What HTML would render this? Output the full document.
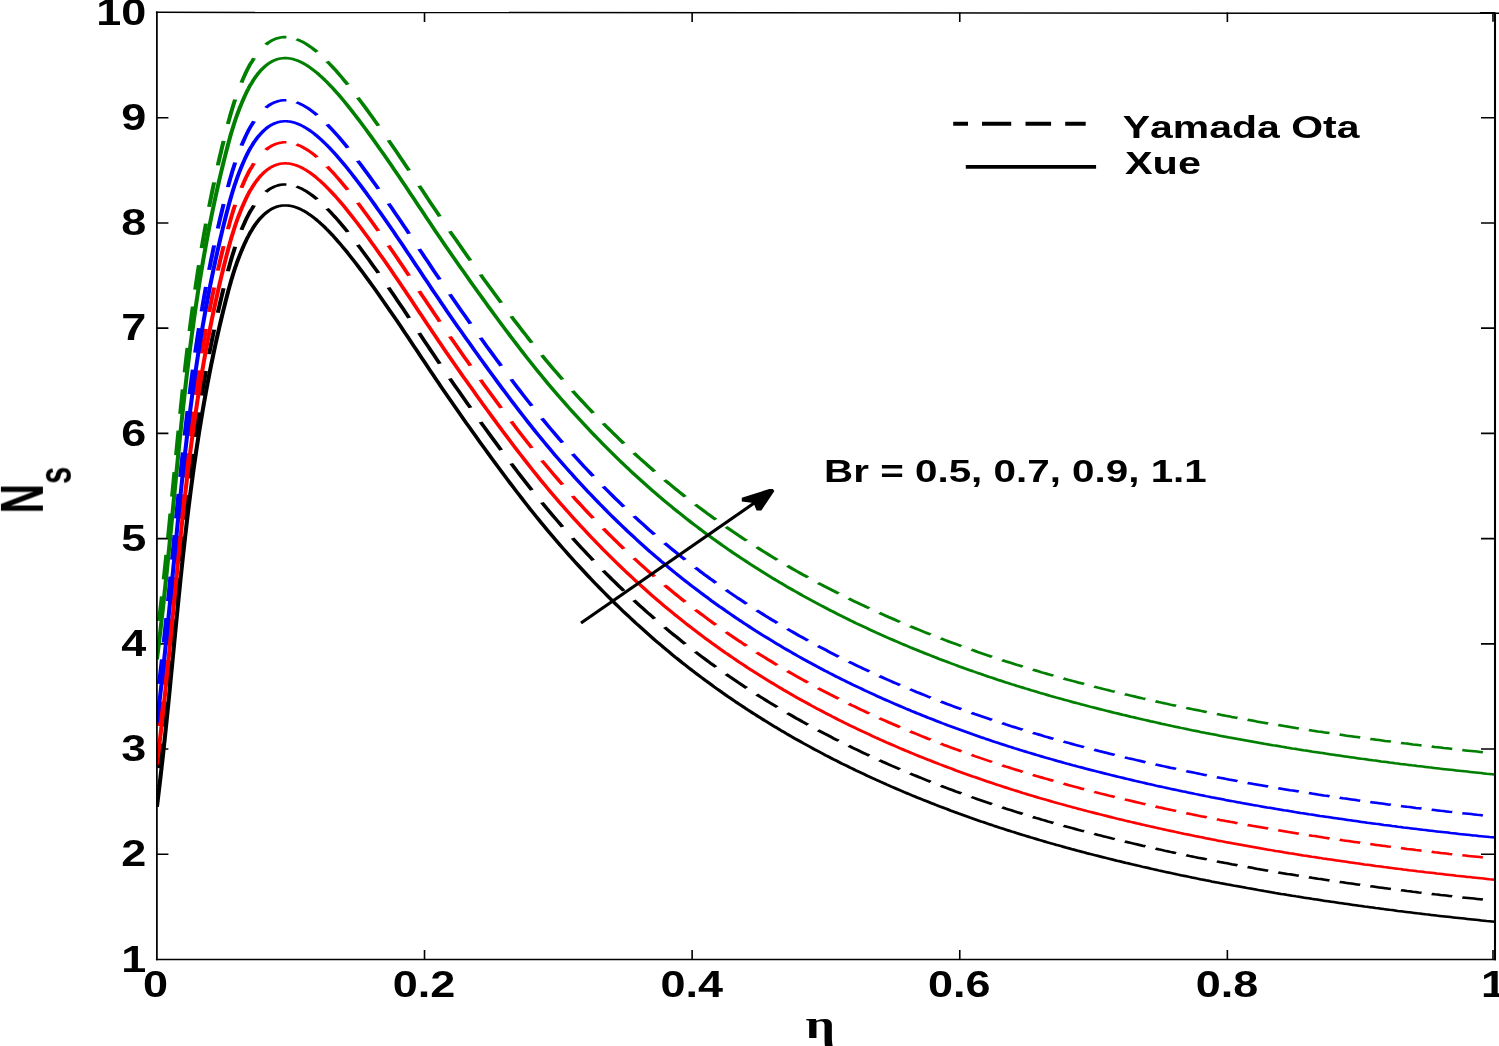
<!DOCTYPE html>
<html><head><meta charset="utf-8"><title>Ns vs eta</title>
<style>
html,body{margin:0;padding:0;background:#fff;}
body{width:1499px;height:1046px;overflow:hidden;font-family:"Liberation Sans",sans-serif;}
svg{display:block;}
</style></head>
<body>
<svg width="1499" height="1046" viewBox="0 0 1499 1046">
<rect width="1499" height="1046" fill="#fff"/>
<path stroke="#000" fill="none" stroke-width="1.6" d="M424.52 959.5v-9.6M424.52 12.5v9.6M692.14 959.5v-9.6M692.14 12.5v9.6M959.76 959.5v-9.6M959.76 12.5v9.6M1227.38 959.5v-9.6M1227.38 12.5v9.6M1493 959.5v-9.6M1493 12.5v9.2M156.9 854.28h11.5M1495 854.28h-14M156.9 749.06h11.5M1495 749.06h-14M156.9 643.83h11.5M1495 643.83h-14M156.9 538.61h11.5M1495 538.61h-14M156.9 433.39h11.5M1495 433.39h-14M156.9 328.17h11.5M1495 328.17h-14M156.9 222.94h11.5M1495 222.94h-14M156.9 117.72h11.5M1495 117.72h-14M1495 12.7h-15"/>
<clipPath id="pc"><rect x="156" y="12.5" width="1339.9" height="947"/></clipPath>
<g clip-path="url(#pc)"><g transform="scale(1.6,1)" fill="none" stroke-width="2.55" stroke-linejoin="round">
<path stroke="#000000" d="M98.06 806.8L98.14 805.8L98.32 803.6L98.49 801.3L98.66 799.1L98.83 796.9L99 794.7L99.17 792.4L99.34 790.2L99.51 788L99.67 785.8L99.83 783.5L100 781.3L100.16 779.1L100.32 776.9L100.48 774.6L100.64 772.4L100.8 770.2L100.96 768L101.11 765.7L101.27 763.5L101.42 761.3L101.58 759.1L101.73 756.8L101.88 754.6L102.04 752.4L102.19 750.2L102.34 748L102.49 745.7L102.63 743.5L102.78 741.3L102.93 739.1L103.08 736.8L103.22 734.6L103.37 732.4L103.51 730.2L103.66 727.9L103.8 725.7L103.94 723.5L104.09 721.3L104.23 719L104.37 716.8L104.51 714.6L104.65 712.4L104.79 710.1L104.93 707.9L105.07 705.7L105.21 703.5L105.34 701.3L105.48 699L105.62 696.8L105.76 694.6L105.89 692.4L106.03 690.1L106.17 687.9L106.3 685.7L106.44 683.5L106.57 681.2L106.71 679L106.84 676.8L106.98 674.6L107.11 672.3L107.25 670.1L107.38 667.9L107.52 665.7L107.65 663.4L107.78 661.2L107.92 659L108.05 656.8L108.19 654.5L108.32 652.3L108.45 650.1L108.59 647.9L108.72 645.7L108.86 643.4L108.99 641.2L109.13 639L109.26 636.8L109.39 634.5L109.53 632.3L109.66 630.1L109.8 627.9L109.93 625.6L110.07 623.4L110.2 621.2L110.34 619L110.48 616.7L110.61 614.5L110.75 612.3L110.89 610.1L111.02 607.8L111.16 605.6L111.3 603.4L111.44 601.2L111.58 598.9L111.72 596.7L111.86 594.5L112 592.3L112.14 590.1L112.28 587.8L112.42 585.6L112.56 583.4L112.71 581.2L112.85 578.9L112.99 576.7L113.14 574.5L113.28 572.3L113.43 570L113.58 567.8L113.72 565.6L113.87 563.4L114.02 561.1L114.17 558.9L114.32 556.7L114.47 554.5L114.62 552.2L114.78 550L114.93 547.8L115.08 545.6L115.24 543.4L115.39 541.1L115.55 538.9L115.71 536.7L115.87 534.5L116.03 532.2L116.19 530L116.35 527.8L116.51 525.6L116.67 523.3L116.84 521.1L117 518.9L117.17 516.7L117.34 514.4L117.5 512.2L117.67 510L117.85 507.8L118.02 505.5L118.19 503.3L118.36 501.1L118.54 498.9L118.72 496.6L118.89 494.4L119.07 492.2L119.25 490L119.44 487.8L119.62 485.5L119.8 483.3L119.99 481.1L120.18 478.9L120.36 476.6L120.55 474.4L120.75 472.2L120.94 470L121.13 467.7L121.33 465.5L121.52 463.3L121.72 461.1L121.92 458.8L122.12 456.6L122.33 454.4L122.53 452.2L122.74 449.9L122.95 447.7L123.16 445.5L123.37 443.3L123.58 441.1L123.79 438.8L124.01 436.6L124.23 434.4L124.45 432.2L124.67 429.9L124.89 427.7L125.12 425.5L125.34 423.3L125.57 421L125.8 418.8L126.03 416.6L126.27 414.4L126.5 412.1L126.74 409.9L126.98 407.7L127.22 405.5L127.46 403.2L127.71 401L127.96 398.8L128.21 396.6L128.46 394.3L128.71 392.1L128.97 389.9L129.22 387.7L129.48 385.5L129.74 383.2L130.01 381L130.27 378.8L130.54 376.6L130.81 374.3L131.09 372.1L131.36 369.9L131.64 367.7L131.92 365.4L132.2 363.2L132.48 361L132.77 358.8L133.05 356.5L133.35 354.3L133.64 352.1L133.93 349.9L134.23 347.6L134.53 345.4L134.83 343.2L135.14 341L135.45 338.7L135.76 336.5L136.07 334.3L136.38 332.1L136.7 329.9L137.02 327.6L137.34 325.4L137.67 323.2L137.99 321L138.33 318.7L138.66 316.5L138.99 314.3L139.33 312.1L139.67 309.8L140.02 307.6L140.36 305.4L140.71 303.2L141.06 300.9L141.42 298.7L141.77 296.5L142.14 294.3L142.5 292L142.87 289.8L143.25 287.6L143.63 285.4L144.02 283.2L144.42 280.9L144.83 278.7L145.25 276.5L145.67 274.3L146.11 272L146.56 269.8L147.02 267.6L147.5 265.4L147.98 263.1L148.48 260.9L149 258.7L149.53 256.5L150.08 254.2L150.64 252L151.22 249.8L151.65 248.2L152.06 246.7L152.47 245.2L152.88 243.7L153.29 242.3L153.7 240.9L154.11 239.5L154.52 238.1L154.93 236.8L155.35 235.6L155.76 234.3L156.17 233.1L156.58 232L156.99 231L157.4 230L157.81 228.9L158.22 227.8L158.63 226.8L159.04 225.8L159.45 224.8L159.86 223.9L160.27 223L160.68 222.2L161.09 221.3L161.5 220.5L161.91 219.7L162.32 219L162.73 218.2L163.15 217.5L163.56 216.8L163.97 216.2L164.38 215.5L164.79 214.9L165.2 214.3L165.61 213.7L166.02 213.1L166.43 212.6L166.84 212.1L167.25 211.6L167.66 211.1L168.07 210.7L168.48 210.2L168.89 209.8L169.3 209.4L169.71 209L170.12 208.7L170.53 208.4L170.95 208L171.36 207.7L171.77 207.5L172.18 207.2L172.59 207L173 206.7L173.41 206.5L173.82 206.4L174.23 206.2L174.64 206L175.05 205.9L175.46 205.8L175.87 205.7L176.28 205.6L176.69 205.5L177.1 205.5L177.51 205.4L177.92 205.4L178.33 205.4L178.75 205.4L179.16 205.5L179.57 205.5L179.98 205.6L180.39 205.6L180.8 205.7L181.21 205.8L181.62 205.9L182.03 206L182.44 206.2L182.85 206.3L183.26 206.5L183.67 206.7L184.08 206.9L184.49 207.1L184.9 207.3L185.31 207.5L185.72 207.8L186.13 208L186.54 208.3L186.96 208.6L187.37 208.9L187.78 209.2L188.19 209.5L188.6 209.8L189.01 210.2L189.42 210.5L189.83 210.9L190.24 211.2L190.65 211.6L191.06 212L191.47 212.4L191.88 212.8L192.29 213.3L192.7 213.7L193.11 214.1L193.52 214.6L193.93 215L194.34 215.5L194.76 216L195.17 216.5L195.58 217L195.99 217.5L196.4 218L196.81 218.5L197.22 219L197.63 219.6L198.04 220.1L198.45 220.7L198.86 221.2L199.27 221.8L199.68 222.4L200.09 223L200.5 223.6L200.91 224.2L201.32 224.8L201.73 225.4L202.14 226L202.56 226.6L202.97 227.3L203.38 227.9L203.79 228.6L204.2 229.2L204.61 229.9L205.02 230.5L205.43 231.2L205.84 231.9L206.25 232.6L207.99 235.5L209.73 238.6L211.46 241.8L213.2 245L214.94 248.3L216.68 251.7L218.41 255.2L220.15 258.7L221.89 262.3L223.63 265.9L225.37 269.6L227.1 273.3L228.84 277.1L230.58 280.9L232.32 284.7L234.05 288.6L235.79 292.5L237.53 296.5L239.27 300.4L241.01 304.4L242.74 308.4L244.48 312.4L246.22 316.5L247.96 320.5L249.69 324.6L251.43 328.8L253.17 332.9L254.91 337.1L256.65 341.2L258.38 345.4L260.12 349.6L261.86 353.7L263.6 357.9L265.33 362.1L267.07 366.3L268.81 370.4L270.55 374.6L272.29 378.7L274.02 382.8L275.76 386.9L277.5 391L279.24 395L280.97 399.1L282.71 403.1L284.45 407L286.19 411L287.93 415L289.66 419L291.4 422.9L293.14 426.8L294.88 430.7L296.61 434.6L298.35 438.5L300.09 442.4L301.83 446.2L303.57 450.1L305.3 453.9L307.04 457.7L308.78 461.5L310.52 465.3L312.25 469L313.99 472.8L315.73 476.5L317.47 480.2L319.2 483.9L320.94 487.5L322.68 491.2L324.42 494.8L326.16 498.4L327.89 502L329.63 505.5L331.37 509.1L333.11 512.5L334.84 516L336.58 519.4L338.32 522.8L340.06 526.2L341.8 529.6L343.53 532.9L345.27 536.2L347.01 539.4L348.75 542.7L350.48 545.9L352.22 549L353.96 552.2L355.7 555.3L357.44 558.4L359.17 561.5L360.91 564.5L362.65 567.5L364.39 570.5L366.12 573.5L367.86 576.5L369.6 579.4L371.34 582.3L373.08 585.2L374.81 588L376.55 590.9L378.29 593.7L380.03 596.5L381.76 599.2L383.5 602L385.24 604.7L386.98 607.4L388.72 610.1L390.45 612.7L392.19 615.3L393.93 617.9L395.67 620.5L397.4 623.1L399.14 625.6L400.88 628.1L402.62 630.6L404.36 633.1L406.09 635.5L407.83 638L409.57 640.4L411.31 642.8L413.04 645.1L414.78 647.5L416.52 649.8L418.26 652.1L420 654.4L421.73 656.7L423.47 658.9L425.21 661.1L426.95 663.4L428.68 665.5L430.42 667.7L432.16 669.9L433.9 672L435.64 674.1L437.37 676.2L439.11 678.3L440.85 680.4L442.59 682.4L444.32 684.4L446.06 686.5L447.8 688.5L449.54 690.4L451.28 692.4L453.01 694.3L454.75 696.3L456.49 698.2L458.23 700.1L459.96 702L461.7 703.8L463.44 705.7L465.18 707.5L466.92 709.4L468.65 711.2L470.39 713L472.13 714.7L473.87 716.5L475.6 718.2L477.34 720L479.08 721.7L480.82 723.4L482.56 725.1L484.29 726.8L486.03 728.4L487.77 730.1L489.51 731.7L491.24 733.4L492.98 735L494.72 736.6L496.46 738.2L498.2 739.7L499.93 741.3L501.67 742.9L503.41 744.4L505.15 745.9L506.88 747.4L508.62 749L510.36 750.4L512.1 751.9L513.84 753.4L515.57 754.9L517.31 756.3L519.05 757.7L520.79 759.2L522.52 760.6L524.26 762L526 763.4L527.74 764.7L529.47 766.1L531.21 767.5L532.95 768.8L534.69 770.2L536.43 771.5L538.16 772.8L539.9 774.1L541.64 775.4L543.38 776.7L545.11 778L546.85 779.3L548.59 780.5L550.33 781.8L552.07 783L553.8 784.3L555.54 785.5L557.28 786.7L559.02 787.9L560.75 789.1L562.49 790.3L564.23 791.5L565.97 792.7L567.71 793.8L569.44 795L571.18 796.1L572.92 797.3L574.66 798.4L576.39 799.5L578.13 800.6L579.87 801.7L581.61 802.8L583.35 803.9L585.08 805L586.82 806.1L588.56 807.1L590.3 808.2L592.03 809.2L593.77 810.3L595.51 811.3L597.25 812.3L598.99 813.4L600.72 814.4L602.46 815.4L604.2 816.4L605.94 817.4L607.67 818.3L609.41 819.3L611.15 820.3L612.89 821.3L614.63 822.2L616.36 823.2L618.1 824.1L619.84 825L621.58 826L623.31 826.9L625.05 827.8L626.79 828.7L628.53 829.6L630.27 830.5L632 831.4L633.74 832.2L635.48 833.1L637.22 834L638.95 834.8L640.69 835.7L642.43 836.5L644.17 837.4L645.91 838.2L647.64 839L649.38 839.9L651.12 840.7L652.86 841.5L654.59 842.3L656.33 843.1L658.07 843.9L659.81 844.7L661.55 845.4L663.28 846.2L665.02 847L666.76 847.8L668.5 848.5L670.23 849.3L671.97 850L673.71 850.8L675.45 851.5L677.19 852.2L678.92 853L680.66 853.7L682.4 854.4L684.14 855.1L685.87 855.8L687.61 856.5L689.35 857.2L691.09 857.9L692.83 858.6L694.56 859.3L696.3 860L698.04 860.7L699.78 861.3L701.51 862L703.25 862.7L704.99 863.3L706.73 864L708.47 864.6L710.2 865.3L711.94 865.9L713.68 866.6L715.42 867.2L717.15 867.8L718.89 868.5L720.63 869.1L722.37 869.7L724.11 870.4L725.84 871L727.58 871.6L729.32 872.2L731.06 872.8L732.79 873.4L734.53 874L736.27 874.6L738.01 875.2L739.74 875.7L741.48 876.3L743.22 876.9L744.96 877.5L746.7 878L748.43 878.6L750.17 879.2L751.91 879.7L753.65 880.3L755.38 880.8L757.12 881.4L758.86 881.9L760.6 882.4L762.34 883L764.07 883.5L765.81 884L767.55 884.6L769.29 885.1L771.02 885.6L772.76 886.1L774.5 886.6L776.24 887.1L777.98 887.6L779.71 888.1L781.45 888.6L783.19 889.1L784.93 889.6L786.66 890.1L788.4 890.6L790.14 891.1L791.88 891.5L793.62 892L795.35 892.5L797.09 893L798.83 893.4L800.57 893.9L802.3 894.3L804.04 894.8L805.78 895.2L807.52 895.7L809.26 896.1L810.99 896.6L812.73 897L814.47 897.5L816.21 897.9L817.94 898.3L819.68 898.8L821.42 899.2L823.16 899.6L824.9 900L826.63 900.5L828.37 900.9L830.11 901.3L831.85 901.7L833.58 902.1L835.32 902.5L837.06 902.9L838.8 903.3L840.54 903.7L842.27 904.1L844.01 904.5L845.75 904.9L847.49 905.3L849.22 905.7L850.96 906.1L852.7 906.5L854.44 906.8L856.18 907.2L857.91 907.6L859.65 908L861.39 908.3L863.13 908.7L864.86 909.1L866.6 909.4L868.34 909.8L870.08 910.1L871.82 910.5L873.55 910.9L875.29 911.2L877.03 911.6L878.77 911.9L880.5 912.2L882.24 912.6L883.98 912.9L885.72 913.3L887.46 913.6L889.19 913.9L890.93 914.3L892.67 914.6L894.41 914.9L896.14 915.2L897.88 915.6L899.62 915.9L901.36 916.2L903.1 916.5L904.83 916.8L906.57 917.1L908.31 917.4L910.05 917.7L911.78 918L913.52 918.3L915.26 918.6L917 918.9L918.74 919.2L920.47 919.5L922.21 919.8L923.95 920.1L925.69 920.4L927.42 920.7L929.16 921L930.9 921.2L932.64 921.5L934.38 921.8"/>
<path stroke="#000000" d="M150.92 229.9L151.73 226.8L152.57 223.8L153.44 220.7L154.35 217.7L155.32 214.6L156.36 211.5L157.58 208.5L158.75 205.4M142.45 271.3L142.96 268.2L143.49 265.2L144.02 262.1L144.57 259.1L145.14 256L145.73 252.9L146.34 249.9L146.97 246.8M136.14 312.7L136.58 309.6L137.02 306.6L137.46 303.5L137.91 300.5L138.37 297.4L138.83 294.3L139.29 291.3L139.76 288.2M130.71 354.1L131.09 351L131.47 348L131.85 344.9L132.24 341.9L132.63 338.8L133.02 335.7L133.42 332.7L133.83 329.6M126.04 395.5L126.36 392.4L126.68 389.4L127.01 386.3L127.35 383.3L127.68 380.2L128.03 377.1L128.37 374.1L128.72 371M122 436.9L122.28 433.8L122.56 430.8L122.85 427.7L123.14 424.7L123.43 421.6L123.72 418.5L124.02 415.5L124.32 412.4M118.5 478.3L118.75 475.2L118.99 472.2L119.24 469.1L119.49 466.1L119.74 463L120 459.9L120.26 456.9L120.52 453.8M115.42 519.7L115.64 516.6L115.85 513.6L116.07 510.5L116.29 507.5L116.52 504.4L116.74 501.3L116.97 498.3L117.2 495.2M112.64 561.1L112.84 558L113.04 555L113.24 551.9L113.44 548.9L113.64 545.8L113.84 542.7L114.05 539.7L114.26 536.6M110.06 602.5L110.25 599.4L110.43 596.4L110.62 593.3L110.81 590.3L111 587.2L111.19 584.1L111.38 581.1L111.57 578M107.56 643.9L107.74 640.8L107.93 637.8L108.11 634.7L108.3 631.7L108.48 628.6L108.67 625.5L108.85 622.5L109.04 619.4M105.03 685.3L105.22 682.2L105.41 679.2L105.6 676.1L105.79 673.1L105.97 670L106.16 666.9L106.35 663.9L106.54 660.8M102.35 726.7L102.56 723.6L102.76 720.6L102.96 717.5L103.16 714.5L103.36 711.4L103.56 708.3L103.76 705.3L103.96 702.2M99.42 768.1L99.65 765L99.87 762L100.1 758.9L100.32 755.9L100.54 752.8L100.76 749.7L100.98 746.7L101.19 743.6M98.06 785.8L98.12 785M166.12 191.9L167.96 189.7L169.8 187.9L171.64 186.5L173.48 185.5L175.32 184.8L177.16 184.4L179 184.4M185.3 186.5L187.14 187.7L188.98 189.1L190.82 190.7L192.66 192.6L194.5 194.6L196.34 196.9L198.18 199.3M204.47 208.6L206.31 211.6L208.15 214.8L209.99 218L211.83 221.4L213.67 224.8L215.51 228.4L217.35 232M223.65 244.9L225.49 248.8L227.33 252.8L229.17 256.8L231.01 260.8L232.85 264.9L234.69 269L236.53 273.1M242.82 287.6L244.66 291.8L246.5 296.1L248.34 300.4L250.18 304.8L252.02 309.1L253.86 313.5L255.7 317.9M262 333L263.84 337.5L265.68 341.9L267.52 346.3L269.36 350.7L271.2 355.1L273.04 359.4L274.88 363.8M281.17 378.5L283.01 382.7L284.85 386.9L286.69 391.1L288.53 395.3L290.37 399.5L292.21 403.7L294.05 407.8M300.35 421.9L302.19 426L304.03 430.1L305.87 434.1L307.71 438.1L309.55 442.1L311.39 446.1L313.23 450.1M319.52 463.5L321.36 467.4L323.2 471.2L325.04 475.1L326.88 478.9L328.72 482.6L330.56 486.4L332.4 490.1M338.7 502.5L340.54 506.1L342.38 509.6L344.22 513.1L346.06 516.6L347.9 520L349.74 523.4L351.58 526.8M357.88 538.1L359.71 541.4L361.55 544.6L363.39 547.8L365.23 550.9L367.07 554.1L368.91 557.2L370.75 560.3M377.05 570.6L378.89 573.6L380.73 576.5L382.57 579.5L384.41 582.3L386.25 585.2L388.09 588L389.92 590.9M396.23 600.3L398.06 603L399.9 605.7L401.74 608.3L403.58 610.9L405.42 613.6L407.26 616.1L409.1 618.7M415.4 627.3L417.24 629.7L419.08 632.2L420.92 634.6L422.76 636.9L424.6 639.3L426.44 641.7L428.27 644M434.57 651.8L436.41 654L438.25 656.2L440.09 658.4L441.93 660.6L443.77 662.8L445.61 664.9L447.45 667M453.75 674.1L455.59 676.2L457.43 678.2L459.27 680.2L461.11 682.2L462.95 684.1L464.79 686.1L466.62 688M472.93 694.5L474.76 696.4L476.6 698.2L478.44 700L480.28 701.8L482.12 703.6L483.96 705.4L485.8 707.2M492.1 713.1L493.94 714.8L495.78 716.5L497.62 718.2L499.46 719.8L501.3 721.5L503.14 723.1L504.97 724.7M511.27 730.2L513.11 731.7L514.95 733.3L516.79 734.8L518.63 736.3L520.47 737.9L522.31 739.4L524.15 740.8M530.45 745.8L532.29 747.3L534.13 748.7L535.97 750.1L537.81 751.5L539.65 752.9L541.49 754.3L543.33 755.6M549.62 760.2L551.46 761.6L553.3 762.9L555.14 764.2L556.98 765.5L558.82 766.7L560.66 768L562.5 769.3M568.8 773.5L570.64 774.7L572.48 775.9L574.32 777.1L576.16 778.3L578 779.5L579.84 780.7L581.67 781.8M587.97 785.7L589.81 786.9L591.65 788L593.49 789.1L595.33 790.2L597.17 791.3L599.01 792.3L600.85 793.4M607.15 797L608.99 798L610.83 799.1L612.67 800.1L614.51 801.1L616.35 802.1L618.19 803.1L620.02 804.1M626.32 807.4L628.16 808.4L630 809.3L631.84 810.2L633.68 811.2L635.52 812.1L637.36 813L639.2 813.9M645.5 817L647.34 817.9L649.18 818.7L651.02 819.6L652.86 820.4L654.7 821.3L656.54 822.1L658.37 823M664.67 825.8L666.51 826.6L668.35 827.4L670.19 828.2L672.03 829L673.87 829.8L675.71 830.6L677.55 831.3M683.85 833.9L685.69 834.7L687.53 835.4L689.37 836.2L691.21 836.9L693.05 837.6L694.89 838.4L696.72 839.1M703.02 841.5L704.86 842.2L706.7 842.9L708.54 843.6L710.38 844.3L712.22 845L714.06 845.7L715.9 846.3M722.2 848.6L724.04 849.3L725.88 849.9L727.72 850.6L729.56 851.2L731.4 851.9L733.24 852.5L735.07 853.1M741.38 855.2L743.21 855.9L745.05 856.5L746.89 857.1L748.73 857.7L750.57 858.2L752.41 858.8L754.25 859.4M760.55 861.4L762.39 862L764.23 862.5L766.07 863.1L767.91 863.6L769.75 864.2L771.59 864.7L773.42 865.3M779.72 867.1L781.56 867.6L783.4 868.1L785.24 868.7L787.08 869.2L788.92 869.7L790.76 870.2L792.6 870.7M798.9 872.4L800.74 872.9L802.58 873.4L804.42 873.9L806.26 874.3L808.1 874.8L809.94 875.3L811.77 875.7M818.07 877.3L819.91 877.8L821.75 878.2L823.59 878.7L825.43 879.1L827.27 879.6L829.11 880L830.95 880.4M837.25 881.9L839.09 882.3L840.93 882.8L842.77 883.2L844.61 883.6L846.45 884L848.29 884.4L850.12 884.8M856.42 886.2L858.26 886.6L860.1 887L861.94 887.4L863.78 887.8L865.62 888.2L867.46 888.6L869.3 888.9M875.6 890.2L877.44 890.6L879.28 891L881.12 891.3L882.96 891.7L884.8 892L886.64 892.4L888.47 892.7M894.77 893.9L896.61 894.3L898.45 894.6L900.29 895L902.13 895.3L903.97 895.6L905.81 895.9L907.65 896.3M913.95 897.4L915.79 897.7L917.63 898L919.47 898.3L921.31 898.6L923.15 898.9L924.99 899.2L926.82 899.5"/>
<path stroke="#ff0000" d="M98.06 764.7L98.14 763.7L98.32 761.5L98.49 759.2L98.66 757L98.83 754.8L99 752.6L99.17 750.3L99.34 748.1L99.51 745.9L99.67 743.7L99.83 741.4L100 739.2L100.16 737L100.32 734.8L100.48 732.6L100.64 730.3L100.8 728.1L100.96 725.9L101.11 723.7L101.27 721.4L101.42 719.2L101.58 717L101.73 714.8L101.88 712.5L102.04 710.3L102.19 708.1L102.34 705.9L102.49 703.6L102.63 701.4L102.78 699.2L102.93 697L103.08 694.7L103.22 692.5L103.37 690.3L103.51 688.1L103.66 685.8L103.8 683.6L103.94 681.4L104.09 679.2L104.23 677L104.37 674.7L104.51 672.5L104.65 670.3L104.79 668.1L104.93 665.8L105.07 663.6L105.21 661.4L105.34 659.2L105.48 656.9L105.62 654.7L105.76 652.5L105.89 650.3L106.03 648L106.17 645.8L106.3 643.6L106.44 641.4L106.57 639.1L106.71 636.9L106.84 634.7L106.98 632.5L107.11 630.3L107.25 628L107.38 625.8L107.52 623.6L107.65 621.4L107.78 619.1L107.92 616.9L108.05 614.7L108.19 612.5L108.32 610.2L108.45 608L108.59 605.8L108.72 603.6L108.86 601.3L108.99 599.1L109.13 596.9L109.26 594.7L109.39 592.4L109.53 590.2L109.66 588L109.8 585.8L109.93 583.5L110.07 581.3L110.2 579.1L110.34 576.9L110.48 574.7L110.61 572.4L110.75 570.2L110.89 568L111.02 565.8L111.16 563.5L111.3 561.3L111.44 559.1L111.58 556.9L111.72 554.6L111.86 552.4L112 550.2L112.14 548L112.28 545.7L112.42 543.5L112.56 541.3L112.71 539.1L112.85 536.8L112.99 534.6L113.14 532.4L113.28 530.2L113.43 527.9L113.58 525.7L113.72 523.5L113.87 521.3L114.02 519.1L114.17 516.8L114.32 514.6L114.47 512.4L114.62 510.2L114.78 507.9L114.93 505.7L115.08 503.5L115.24 501.3L115.39 499L115.55 496.8L115.71 494.6L115.87 492.4L116.03 490.1L116.19 487.9L116.35 485.7L116.51 483.5L116.67 481.2L116.84 479L117 476.8L117.17 474.6L117.34 472.4L117.5 470.1L117.67 467.9L117.85 465.7L118.02 463.5L118.19 461.2L118.36 459L118.54 456.8L118.72 454.6L118.89 452.3L119.07 450.1L119.25 447.9L119.44 445.7L119.62 443.4L119.8 441.2L119.99 439L120.18 436.8L120.36 434.5L120.55 432.3L120.75 430.1L120.94 427.9L121.13 425.6L121.33 423.4L121.52 421.2L121.72 419L121.92 416.8L122.12 414.5L122.33 412.3L122.53 410.1L122.74 407.9L122.95 405.6L123.16 403.4L123.37 401.2L123.58 399L123.79 396.7L124.01 394.5L124.23 392.3L124.45 390.1L124.67 387.8L124.89 385.6L125.12 383.4L125.34 381.2L125.57 378.9L125.8 376.7L126.03 374.5L126.27 372.3L126.5 370.1L126.74 367.8L126.98 365.6L127.22 363.4L127.46 361.2L127.71 358.9L127.96 356.7L128.21 354.5L128.46 352.3L128.71 350L128.97 347.8L129.22 345.6L129.48 343.4L129.74 341.1L130.01 338.9L130.27 336.7L130.54 334.5L130.81 332.2L131.09 330L131.36 327.8L131.64 325.6L131.92 323.3L132.2 321.1L132.48 318.9L132.77 316.7L133.05 314.5L133.35 312.2L133.64 310L133.93 307.8L134.23 305.6L134.53 303.3L134.83 301.1L135.14 298.9L135.45 296.7L135.76 294.4L136.07 292.2L136.38 290L136.7 287.8L137.02 285.5L137.34 283.3L137.67 281.1L137.99 278.9L138.33 276.6L138.66 274.4L138.99 272.2L139.33 270L139.67 267.7L140.02 265.5L140.36 263.3L140.71 261.1L141.06 258.9L141.42 256.6L141.77 254.4L142.14 252.2L142.5 250L142.87 247.7L143.25 245.5L143.63 243.3L144.02 241.1L144.42 238.8L144.83 236.6L145.25 234.4L145.67 232.2L146.11 229.9L146.56 227.7L147.02 225.5L147.5 223.3L147.98 221L148.48 218.8L149 216.6L149.53 214.4L150.08 212.2L150.64 209.9L151.22 207.7L151.65 206.1L152.06 204.6L152.47 203.1L152.88 201.6L153.29 200.2L153.7 198.8L154.11 197.4L154.52 196.1L154.93 194.7L155.35 193.5L155.76 192.2L156.17 191L156.58 189.9L156.99 188.9L157.4 187.9L157.81 186.8L158.22 185.7L158.63 184.7L159.04 183.7L159.45 182.8L159.86 181.8L160.27 181L160.68 180.1L161.09 179.3L161.5 178.4L161.91 177.7L162.32 176.9L162.73 176.1L163.15 175.4L163.56 174.7L163.97 174.1L164.38 173.4L164.79 172.8L165.2 172.2L165.61 171.6L166.02 171L166.43 170.5L166.84 170L167.25 169.5L167.66 169L168.07 168.6L168.48 168.1L168.89 167.7L169.3 167.3L169.71 167L170.12 166.6L170.53 166.3L170.95 166L171.36 165.7L171.77 165.4L172.18 165.1L172.59 164.9L173 164.7L173.41 164.5L173.82 164.3L174.23 164.1L174.64 163.9L175.05 163.8L175.46 163.7L175.87 163.6L176.28 163.5L176.69 163.4L177.1 163.4L177.51 163.4L177.92 163.3L178.33 163.3L178.75 163.3L179.16 163.4L179.57 163.4L179.98 163.5L180.39 163.5L180.8 163.6L181.21 163.7L181.62 163.8L182.03 164L182.44 164.1L182.85 164.3L183.26 164.4L183.67 164.6L184.08 164.8L184.49 165L184.9 165.2L185.31 165.5L185.72 165.7L186.13 166L186.54 166.2L186.96 166.5L187.37 166.8L187.78 167.1L188.19 167.4L188.6 167.7L189.01 168.1L189.42 168.4L189.83 168.8L190.24 169.2L190.65 169.5L191.06 169.9L191.47 170.3L191.88 170.7L192.29 171.2L192.7 171.6L193.11 172L193.52 172.5L193.93 172.9L194.34 173.4L194.76 173.9L195.17 174.4L195.58 174.9L195.99 175.4L196.4 175.9L196.81 176.4L197.22 176.9L197.63 177.5L198.04 178L198.45 178.6L198.86 179.2L199.27 179.7L199.68 180.3L200.09 180.9L200.5 181.5L200.91 182.1L201.32 182.7L201.73 183.3L202.14 183.9L202.56 184.5L202.97 185.2L203.38 185.8L203.79 186.5L204.2 187.1L204.61 187.8L205.02 188.5L205.43 189.1L205.84 189.8L206.25 190.5L207.99 193.5L209.73 196.5L211.46 199.7L213.2 202.9L214.94 206.2L216.68 209.6L218.41 213.1L220.15 216.6L221.89 220.2L223.63 223.8L225.37 227.5L227.1 231.2L228.84 235L230.58 238.8L232.32 242.7L234.05 246.5L235.79 250.4L237.53 254.4L239.27 258.3L241.01 262.3L242.74 266.3L244.48 270.3L246.22 274.4L247.96 278.5L249.69 282.6L251.43 286.7L253.17 290.8L254.91 295L256.65 299.1L258.38 303.3L260.12 307.5L261.86 311.7L263.6 315.8L265.33 320L267.07 324.2L268.81 328.3L270.55 332.5L272.29 336.6L274.02 340.7L275.76 344.8L277.5 348.9L279.24 352.9L280.97 357L282.71 361L284.45 365L286.19 368.9L287.93 372.9L289.66 376.9L291.4 380.8L293.14 384.7L294.88 388.6L296.61 392.5L298.35 396.4L300.09 400.3L301.83 404.2L303.57 408L305.3 411.8L307.04 415.6L308.78 419.4L310.52 423.2L312.25 426.9L313.99 430.7L315.73 434.4L317.47 438.1L319.2 441.8L320.94 445.5L322.68 449.1L324.42 452.7L326.16 456.3L327.89 459.9L329.63 463.4L331.37 467L333.11 470.5L334.84 473.9L336.58 477.4L338.32 480.8L340.06 484.1L341.8 487.5L343.53 490.8L345.27 494.1L347.01 497.3L348.75 500.6L350.48 503.8L352.22 506.9L353.96 510.1L355.7 513.2L357.44 516.3L359.17 519.4L360.91 522.4L362.65 525.5L364.39 528.4L366.12 531.4L367.86 534.4L369.6 537.3L371.34 540.2L373.08 543.1L374.81 545.9L376.55 548.8L378.29 551.6L380.03 554.4L381.76 557.1L383.5 559.9L385.24 562.6L386.98 565.3L388.72 568L390.45 570.6L392.19 573.2L393.93 575.8L395.67 578.4L397.4 581L399.14 583.5L400.88 586L402.62 588.5L404.36 591L406.09 593.5L407.83 595.9L409.57 598.3L411.31 600.7L413.04 603L414.78 605.4L416.52 607.7L418.26 610L420 612.3L421.73 614.6L423.47 616.8L425.21 619.1L426.95 621.3L428.68 623.5L430.42 625.6L432.16 627.8L433.9 629.9L435.64 632L437.37 634.1L439.11 636.2L440.85 638.3L442.59 640.3L444.32 642.4L446.06 644.4L447.8 646.4L449.54 648.3L451.28 650.3L453.01 652.3L454.75 654.2L456.49 656.1L458.23 658L459.96 659.9L461.7 661.8L463.44 663.6L465.18 665.4L466.92 667.3L468.65 669.1L470.39 670.9L472.13 672.6L473.87 674.4L475.6 676.2L477.34 677.9L479.08 679.6L480.82 681.3L482.56 683L484.29 684.7L486.03 686.4L487.77 688L489.51 689.7L491.24 691.3L492.98 692.9L494.72 694.5L496.46 696.1L498.2 697.7L499.93 699.2L501.67 700.8L503.41 702.3L505.15 703.8L506.88 705.4L508.62 706.9L510.36 708.4L512.1 709.8L513.84 711.3L515.57 712.8L517.31 714.2L519.05 715.6L520.79 717.1L522.52 718.5L524.26 719.9L526 721.3L527.74 722.7L529.47 724L531.21 725.4L532.95 726.7L534.69 728.1L536.43 729.4L538.16 730.7L539.9 732L541.64 733.3L543.38 734.6L545.11 735.9L546.85 737.2L548.59 738.4L550.33 739.7L552.07 740.9L553.8 742.2L555.54 743.4L557.28 744.6L559.02 745.8L560.75 747L562.49 748.2L564.23 749.4L565.97 750.6L567.71 751.7L569.44 752.9L571.18 754L572.92 755.2L574.66 756.3L576.39 757.4L578.13 758.5L579.87 759.6L581.61 760.7L583.35 761.8L585.08 762.9L586.82 764L588.56 765L590.3 766.1L592.03 767.2L593.77 768.2L595.51 769.2L597.25 770.3L598.99 771.3L600.72 772.3L602.46 773.3L604.2 774.3L605.94 775.3L607.67 776.3L609.41 777.2L611.15 778.2L612.89 779.2L614.63 780.1L616.36 781.1L618.1 782L619.84 782.9L621.58 783.9L623.31 784.8L625.05 785.7L626.79 786.6L628.53 787.5L630.27 788.4L632 789.3L633.74 790.2L635.48 791L637.22 791.9L638.95 792.8L640.69 793.6L642.43 794.5L644.17 795.3L645.91 796.1L647.64 797L649.38 797.8L651.12 798.6L652.86 799.4L654.59 800.2L656.33 801L658.07 801.8L659.81 802.6L661.55 803.4L663.28 804.1L665.02 804.9L666.76 805.7L668.5 806.4L670.23 807.2L671.97 807.9L673.71 808.7L675.45 809.4L677.19 810.1L678.92 810.9L680.66 811.6L682.4 812.3L684.14 813L685.87 813.7L687.61 814.4L689.35 815.1L691.09 815.8L692.83 816.5L694.56 817.2L696.3 817.9L698.04 818.6L699.78 819.2L701.51 819.9L703.25 820.6L704.99 821.2L706.73 821.9L708.47 822.5L710.2 823.2L711.94 823.8L713.68 824.5L715.42 825.1L717.15 825.8L718.89 826.4L720.63 827L722.37 827.6L724.11 828.3L725.84 828.9L727.58 829.5L729.32 830.1L731.06 830.7L732.79 831.3L734.53 831.9L736.27 832.5L738.01 833.1L739.74 833.7L741.48 834.2L743.22 834.8L744.96 835.4L746.7 836L748.43 836.5L750.17 837.1L751.91 837.6L753.65 838.2L755.38 838.7L757.12 839.3L758.86 839.8L760.6 840.4L762.34 840.9L764.07 841.4L765.81 842L767.55 842.5L769.29 843L771.02 843.5L772.76 844L774.5 844.5L776.24 845L777.98 845.5L779.71 846L781.45 846.5L783.19 847L784.93 847.5L786.66 848L788.4 848.5L790.14 849L791.88 849.5L793.62 849.9L795.35 850.4L797.09 850.9L798.83 851.3L800.57 851.8L802.3 852.3L804.04 852.7L805.78 853.2L807.52 853.6L809.26 854.1L810.99 854.5L812.73 854.9L814.47 855.4L816.21 855.8L817.94 856.2L819.68 856.7L821.42 857.1L823.16 857.5L824.9 857.9L826.63 858.4L828.37 858.8L830.11 859.2L831.85 859.6L833.58 860L835.32 860.4L837.06 860.8L838.8 861.2L840.54 861.6L842.27 862L844.01 862.4L845.75 862.8L847.49 863.2L849.22 863.6L850.96 864L852.7 864.4L854.44 864.7L856.18 865.1L857.91 865.5L859.65 865.9L861.39 866.2L863.13 866.6L864.86 867L866.6 867.3L868.34 867.7L870.08 868.1L871.82 868.4L873.55 868.8L875.29 869.1L877.03 869.5L878.77 869.8L880.5 870.2L882.24 870.5L883.98 870.8L885.72 871.2L887.46 871.5L889.19 871.8L890.93 872.2L892.67 872.5L894.41 872.8L896.14 873.1L897.88 873.5L899.62 873.8L901.36 874.1L903.1 874.4L904.83 874.7L906.57 875L908.31 875.3L910.05 875.7L911.78 876L913.52 876.3L915.26 876.6L917 876.9L918.74 877.1L920.47 877.4L922.21 877.7L923.95 878L925.69 878.3L927.42 878.6L929.16 878.9L930.9 879.2L932.64 879.4L934.38 879.7"/>
<path stroke="#ff0000" d="M150.92 187.8L151.73 184.8L152.57 181.7L153.44 178.6L154.35 175.6L155.32 172.5L156.36 169.4L157.58 166.4L158.75 163.3M142.45 229.2L142.96 226.2L143.49 223.1L144.02 220L144.57 217L145.14 213.9L145.73 210.8L146.34 207.8L146.97 204.7M136.14 270.6L136.58 267.6L137.02 264.5L137.46 261.4L137.91 258.4L138.37 255.3L138.83 252.2L139.29 249.2L139.76 246.1M130.71 312L131.09 309L131.47 305.9L131.85 302.8L132.24 299.8L132.63 296.7L133.02 293.6L133.42 290.6L133.83 287.5M126.04 353.4L126.36 350.4L126.68 347.3L127.01 344.2L127.35 341.2L127.68 338.1L128.03 335L128.37 332L128.72 328.9M122 394.8L122.28 391.8L122.56 388.7L122.85 385.6L123.14 382.6L123.43 379.5L123.72 376.4L124.02 373.4L124.32 370.3M118.5 436.2L118.75 433.2L118.99 430.1L119.24 427L119.49 424L119.74 420.9L120 417.8L120.26 414.8L120.52 411.7M115.42 477.6L115.64 474.6L115.85 471.5L116.07 468.4L116.29 465.4L116.52 462.3L116.74 459.2L116.97 456.2L117.2 453.1M112.64 519L112.84 516L113.04 512.9L113.24 509.8L113.44 506.8L113.64 503.7L113.84 500.6L114.05 497.6L114.26 494.5M110.06 560.4L110.25 557.4L110.43 554.3L110.62 551.2L110.81 548.2L111 545.1L111.19 542L111.38 539L111.57 535.9M107.56 601.8L107.74 598.8L107.93 595.7L108.11 592.6L108.3 589.6L108.48 586.5L108.67 583.4L108.85 580.4L109.04 577.3M105.03 643.2L105.22 640.2L105.41 637.1L105.6 634L105.79 631L105.97 627.9L106.16 624.8L106.35 621.8L106.54 618.7M102.35 684.6L102.56 681.6L102.76 678.5L102.96 675.4L103.16 672.4L103.36 669.3L103.56 666.2L103.76 663.2L103.96 660.1M99.42 726L99.65 723L99.87 719.9L100.1 716.8L100.32 713.8L100.54 710.7L100.76 707.6L100.98 704.6L101.19 701.5M98.06 743.7L98.12 742.9M166.12 149.9L167.96 147.6L169.8 145.8L171.64 144.4L173.48 143.4L175.32 142.7L177.16 142.3L179 142.3M185.3 144.4L187.14 145.6L188.98 147L190.82 148.7L192.66 150.5L194.5 152.5L196.34 154.8L198.18 157.2M204.47 166.5L206.31 169.6L208.15 172.7L209.99 176L211.83 179.3L213.67 182.8L215.51 186.3L217.35 189.9M223.65 202.8L225.49 206.7L227.33 210.7L229.17 214.7L231.01 218.7L232.85 222.8L234.69 226.9L236.53 231.1M242.82 245.5L244.66 249.7L246.5 254L248.34 258.3L250.18 262.7L252.02 267L253.86 271.4L255.7 275.8M262 290.9L263.84 295.4L265.68 299.8L267.52 304.2L269.36 308.6L271.2 313L273.04 317.3L274.88 321.7M281.17 336.4L283.01 340.6L284.85 344.8L286.69 349.1L288.53 353.2L290.37 357.4L292.21 361.6L294.05 365.7M300.35 379.8L302.19 383.9L304.03 388L305.87 392L307.71 396L309.55 400L311.39 404L313.23 408M319.52 421.4L321.36 425.3L323.2 429.2L325.04 433L326.88 436.8L328.72 440.5L330.56 444.3L332.4 448M338.7 460.5L340.54 464L342.38 467.5L344.22 471L346.06 474.5L347.9 477.9L349.74 481.4L351.58 484.7M357.88 496L359.71 499.3L361.55 502.5L363.39 505.7L365.23 508.9L367.07 512L368.91 515.1L370.75 518.2M377.05 528.5L378.89 531.5L380.73 534.5L382.57 537.4L384.41 540.3L386.25 543.1L388.09 546L389.92 548.8M396.23 558.2L398.06 560.9L399.9 563.6L401.74 566.2L403.58 568.9L405.42 571.5L407.26 574L409.1 576.6M415.4 585.2L417.24 587.6L419.08 590.1L420.92 592.5L422.76 594.9L424.6 597.2L426.44 599.6L428.27 601.9M434.57 609.7L436.41 611.9L438.25 614.1L440.09 616.3L441.93 618.5L443.77 620.7L445.61 622.8L447.45 624.9M453.75 632L455.59 634.1L457.43 636.1L459.27 638.1L461.11 640.1L462.95 642L464.79 644L466.62 645.9M472.93 652.4L474.76 654.3L476.6 656.1L478.44 657.9L480.28 659.8L482.12 661.5L483.96 663.3L485.8 665.1M492.1 671L493.94 672.7L495.78 674.4L497.62 676.1L499.46 677.8L501.3 679.4L503.14 681L504.97 682.6M511.27 688.1L513.11 689.7L514.95 691.2L516.79 692.7L518.63 694.3L520.47 695.8L522.31 697.3L524.15 698.8M530.45 703.7L532.29 705.2L534.13 706.6L535.97 708L537.81 709.4L539.65 710.8L541.49 712.2L543.33 713.6M549.62 718.2L551.46 719.5L553.3 720.8L555.14 722.1L556.98 723.4L558.82 724.6L560.66 725.9L562.5 727.2M568.8 731.4L570.64 732.6L572.48 733.8L574.32 735L576.16 736.2L578 737.4L579.84 738.6L581.67 739.7M587.97 743.6L589.81 744.8L591.65 745.9L593.49 747L595.33 748.1L597.17 749.2L599.01 750.2L600.85 751.3M607.15 754.9L608.99 756L610.83 757L612.67 758L614.51 759L616.35 760L618.19 761L620.02 762M626.32 765.3L628.16 766.3L630 767.2L631.84 768.2L633.68 769.1L635.52 770L637.36 770.9L639.2 771.8M645.5 774.9L647.34 775.8L649.18 776.6L651.02 777.5L652.86 778.4L654.7 779.2L656.54 780L658.37 780.9M664.67 783.7L666.51 784.5L668.35 785.3L670.19 786.1L672.03 786.9L673.87 787.7L675.71 788.5L677.55 789.2M683.85 791.9L685.69 792.6L687.53 793.4L689.37 794.1L691.21 794.8L693.05 795.6L694.89 796.3L696.72 797M703.02 799.4L704.86 800.1L706.7 800.8L708.54 801.5L710.38 802.2L712.22 802.9L714.06 803.6L715.9 804.3M722.2 806.5L724.04 807.2L725.88 807.8L727.72 808.5L729.56 809.1L731.4 809.8L733.24 810.4L735.07 811M741.38 813.2L743.21 813.8L745.05 814.4L746.89 815L748.73 815.6L750.57 816.2L752.41 816.7L754.25 817.3M760.55 819.3L762.39 819.9L764.23 820.4L766.07 821L767.91 821.5L769.75 822.1L771.59 822.6L773.42 823.2M779.72 825L781.56 825.5L783.4 826.1L785.24 826.6L787.08 827.1L788.92 827.6L790.76 828.1L792.6 828.6M798.9 830.3L800.74 830.8L802.58 831.3L804.42 831.8L806.26 832.2L808.1 832.7L809.94 833.2L811.77 833.7M818.07 835.2L819.91 835.7L821.75 836.1L823.59 836.6L825.43 837L827.27 837.5L829.11 837.9L830.95 838.4M837.25 839.8L839.09 840.3L840.93 840.7L842.77 841.1L844.61 841.5L846.45 841.9L848.29 842.3L850.12 842.8M856.42 844.1L858.26 844.5L860.1 844.9L861.94 845.3L863.78 845.7L865.62 846.1L867.46 846.5L869.3 846.8M875.6 848.1L877.44 848.5L879.28 848.9L881.12 849.2L882.96 849.6L884.8 850L886.64 850.3L888.47 850.7M894.77 851.8L896.61 852.2L898.45 852.5L900.29 852.9L902.13 853.2L903.97 853.5L905.81 853.9L907.65 854.2M913.95 855.3L915.79 855.6L917.63 855.9L919.47 856.2L921.31 856.5L923.15 856.8L924.99 857.1L926.82 857.4"/>
<path stroke="#0000ff" d="M98.06 722.6L98.14 721.6L98.32 719.4L98.49 717.2L98.66 714.9L98.83 712.7L99 710.5L99.17 708.3L99.34 706L99.51 703.8L99.67 701.6L99.83 699.4L100 697.1L100.16 694.9L100.32 692.7L100.48 690.5L100.64 688.2L100.8 686L100.96 683.8L101.11 681.6L101.27 679.3L101.42 677.1L101.58 674.9L101.73 672.7L101.88 670.4L102.04 668.2L102.19 666L102.34 663.8L102.49 661.6L102.63 659.3L102.78 657.1L102.93 654.9L103.08 652.7L103.22 650.4L103.37 648.2L103.51 646L103.66 643.8L103.8 641.5L103.94 639.3L104.09 637.1L104.23 634.9L104.37 632.6L104.51 630.4L104.65 628.2L104.79 626L104.93 623.7L105.07 621.5L105.21 619.3L105.34 617.1L105.48 614.8L105.62 612.6L105.76 610.4L105.89 608.2L106.03 606L106.17 603.7L106.3 601.5L106.44 599.3L106.57 597.1L106.71 594.8L106.84 592.6L106.98 590.4L107.11 588.2L107.25 585.9L107.38 583.7L107.52 581.5L107.65 579.3L107.78 577L107.92 574.8L108.05 572.6L108.19 570.4L108.32 568.1L108.45 565.9L108.59 563.7L108.72 561.5L108.86 559.3L108.99 557L109.13 554.8L109.26 552.6L109.39 550.4L109.53 548.1L109.66 545.9L109.8 543.7L109.93 541.5L110.07 539.2L110.2 537L110.34 534.8L110.48 532.6L110.61 530.3L110.75 528.1L110.89 525.9L111.02 523.7L111.16 521.4L111.3 519.2L111.44 517L111.58 514.8L111.72 512.5L111.86 510.3L112 508.1L112.14 505.9L112.28 503.7L112.42 501.4L112.56 499.2L112.71 497L112.85 494.8L112.99 492.5L113.14 490.3L113.28 488.1L113.43 485.9L113.58 483.6L113.72 481.4L113.87 479.2L114.02 477L114.17 474.7L114.32 472.5L114.47 470.3L114.62 468.1L114.78 465.8L114.93 463.6L115.08 461.4L115.24 459.2L115.39 456.9L115.55 454.7L115.71 452.5L115.87 450.3L116.03 448.1L116.19 445.8L116.35 443.6L116.51 441.4L116.67 439.2L116.84 436.9L117 434.7L117.17 432.5L117.34 430.3L117.5 428L117.67 425.8L117.85 423.6L118.02 421.4L118.19 419.1L118.36 416.9L118.54 414.7L118.72 412.5L118.89 410.2L119.07 408L119.25 405.8L119.44 403.6L119.62 401.4L119.8 399.1L119.99 396.9L120.18 394.7L120.36 392.5L120.55 390.2L120.75 388L120.94 385.8L121.13 383.6L121.33 381.3L121.52 379.1L121.72 376.9L121.92 374.7L122.12 372.4L122.33 370.2L122.53 368L122.74 365.8L122.95 363.5L123.16 361.3L123.37 359.1L123.58 356.9L123.79 354.6L124.01 352.4L124.23 350.2L124.45 348L124.67 345.8L124.89 343.5L125.12 341.3L125.34 339.1L125.57 336.9L125.8 334.6L126.03 332.4L126.27 330.2L126.5 328L126.74 325.7L126.98 323.5L127.22 321.3L127.46 319.1L127.71 316.8L127.96 314.6L128.21 312.4L128.46 310.2L128.71 307.9L128.97 305.7L129.22 303.5L129.48 301.3L129.74 299.1L130.01 296.8L130.27 294.6L130.54 292.4L130.81 290.2L131.09 287.9L131.36 285.7L131.64 283.5L131.92 281.3L132.2 279L132.48 276.8L132.77 274.6L133.05 272.4L133.35 270.1L133.64 267.9L133.93 265.7L134.23 263.5L134.53 261.2L134.83 259L135.14 256.8L135.45 254.6L135.76 252.3L136.07 250.1L136.38 247.9L136.7 245.7L137.02 243.5L137.34 241.2L137.67 239L137.99 236.8L138.33 234.6L138.66 232.3L138.99 230.1L139.33 227.9L139.67 225.7L140.02 223.4L140.36 221.2L140.71 219L141.06 216.8L141.42 214.5L141.77 212.3L142.14 210.1L142.5 207.9L142.87 205.6L143.25 203.4L143.63 201.2L144.02 199L144.42 196.7L144.83 194.5L145.25 192.3L145.67 190.1L146.11 187.9L146.56 185.6L147.02 183.4L147.5 181.2L147.98 179L148.48 176.7L149 174.5L149.53 172.3L150.08 170.1L150.64 167.8L151.22 165.6L151.65 164L152.06 162.5L152.47 161L152.88 159.5L153.29 158.1L153.7 156.7L154.11 155.3L154.52 154L154.93 152.7L155.35 151.4L155.76 150.2L156.17 149L156.58 147.8L156.99 146.8L157.4 145.8L157.81 144.7L158.22 143.6L158.63 142.6L159.04 141.6L159.45 140.7L159.86 139.8L160.27 138.9L160.68 138L161.09 137.2L161.5 136.4L161.91 135.6L162.32 134.8L162.73 134.1L163.15 133.3L163.56 132.6L163.97 132L164.38 131.3L164.79 130.7L165.2 130.1L165.61 129.5L166.02 129L166.43 128.4L166.84 127.9L167.25 127.4L167.66 126.9L168.07 126.5L168.48 126L168.89 125.6L169.3 125.2L169.71 124.9L170.12 124.5L170.53 124.2L170.95 123.9L171.36 123.6L171.77 123.3L172.18 123L172.59 122.8L173 122.6L173.41 122.4L173.82 122.2L174.23 122L174.64 121.9L175.05 121.7L175.46 121.6L175.87 121.5L176.28 121.4L176.69 121.4L177.1 121.3L177.51 121.3L177.92 121.2L178.33 121.2L178.75 121.3L179.16 121.3L179.57 121.3L179.98 121.4L180.39 121.4L180.8 121.5L181.21 121.6L181.62 121.7L182.03 121.9L182.44 122L182.85 122.2L183.26 122.3L183.67 122.5L184.08 122.7L184.49 122.9L184.9 123.1L185.31 123.4L185.72 123.6L186.13 123.9L186.54 124.1L186.96 124.4L187.37 124.7L187.78 125L188.19 125.3L188.6 125.7L189.01 126L189.42 126.3L189.83 126.7L190.24 127.1L190.65 127.5L191.06 127.8L191.47 128.2L191.88 128.7L192.29 129.1L192.7 129.5L193.11 129.9L193.52 130.4L193.93 130.9L194.34 131.3L194.76 131.8L195.17 132.3L195.58 132.8L195.99 133.3L196.4 133.8L196.81 134.3L197.22 134.9L197.63 135.4L198.04 135.9L198.45 136.5L198.86 137.1L199.27 137.6L199.68 138.2L200.09 138.8L200.5 139.4L200.91 140L201.32 140.6L201.73 141.2L202.14 141.8L202.56 142.5L202.97 143.1L203.38 143.7L203.79 144.4L204.2 145L204.61 145.7L205.02 146.4L205.43 147L205.84 147.7L206.25 148.4L207.99 151.4L209.73 154.4L211.46 157.6L213.2 160.8L214.94 164.1L216.68 167.5L218.41 171L220.15 174.5L221.89 178.1L223.63 181.7L225.37 185.4L227.1 189.1L228.84 192.9L230.58 196.7L232.32 200.6L234.05 204.4L235.79 208.4L237.53 212.3L239.27 216.3L241.01 220.2L242.74 224.2L244.48 228.2L246.22 232.3L247.96 236.4L249.69 240.5L251.43 244.6L253.17 248.7L254.91 252.9L256.65 257L258.38 261.2L260.12 265.4L261.86 269.6L263.6 273.7L265.33 277.9L267.07 282.1L268.81 286.2L270.55 290.4L272.29 294.5L274.02 298.6L275.76 302.7L277.5 306.8L279.24 310.9L280.97 314.9L282.71 318.9L284.45 322.9L286.19 326.9L287.93 330.8L289.66 334.8L291.4 338.7L293.14 342.6L294.88 346.6L296.61 350.5L298.35 354.3L300.09 358.2L301.83 362.1L303.57 365.9L305.3 369.7L307.04 373.5L308.78 377.3L310.52 381.1L312.25 384.9L313.99 388.6L315.73 392.3L317.47 396L319.2 399.7L320.94 403.4L322.68 407L324.42 410.6L326.16 414.2L327.89 417.8L329.63 421.4L331.37 424.9L333.11 428.4L334.84 431.8L336.58 435.3L338.32 438.7L340.06 442L341.8 445.4L343.53 448.7L345.27 452L347.01 455.3L348.75 458.5L350.48 461.7L352.22 464.9L353.96 468L355.7 471.1L357.44 474.2L359.17 477.3L360.91 480.3L362.65 483.4L364.39 486.4L366.12 489.3L367.86 492.3L369.6 495.2L371.34 498.1L373.08 501L374.81 503.9L376.55 506.7L378.29 509.5L380.03 512.3L381.76 515.1L383.5 517.8L385.24 520.5L386.98 523.2L388.72 525.9L390.45 528.5L392.19 531.2L393.93 533.8L395.67 536.3L397.4 538.9L399.14 541.4L400.88 543.9L402.62 546.4L404.36 548.9L406.09 551.4L407.83 553.8L409.57 556.2L411.31 558.6L413.04 561L414.78 563.3L416.52 565.6L418.26 567.9L420 570.2L421.73 572.5L423.47 574.7L425.21 577L426.95 579.2L428.68 581.4L430.42 583.5L432.16 585.7L433.9 587.8L435.64 589.9L437.37 592L439.11 594.1L440.85 596.2L442.59 598.2L444.32 600.3L446.06 602.3L447.8 604.3L449.54 606.3L451.28 608.2L453.01 610.2L454.75 612.1L456.49 614L458.23 615.9L459.96 617.8L461.7 619.7L463.44 621.5L465.18 623.4L466.92 625.2L468.65 627L470.39 628.8L472.13 630.6L473.87 632.3L475.6 634.1L477.34 635.8L479.08 637.5L480.82 639.2L482.56 640.9L484.29 642.6L486.03 644.3L487.77 645.9L489.51 647.6L491.24 649.2L492.98 650.8L494.72 652.4L496.46 654L498.2 655.6L499.93 657.1L501.67 658.7L503.41 660.2L505.15 661.8L506.88 663.3L508.62 664.8L510.36 666.3L512.1 667.7L513.84 669.2L515.57 670.7L517.31 672.1L519.05 673.6L520.79 675L522.52 676.4L524.26 677.8L526 679.2L527.74 680.6L529.47 681.9L531.21 683.3L532.95 684.7L534.69 686L536.43 687.3L538.16 688.6L539.9 690L541.64 691.3L543.38 692.5L545.11 693.8L546.85 695.1L548.59 696.4L550.33 697.6L552.07 698.9L553.8 700.1L555.54 701.3L557.28 702.5L559.02 703.7L560.75 704.9L562.49 706.1L564.23 707.3L565.97 708.5L567.71 709.6L569.44 710.8L571.18 711.9L572.92 713.1L574.66 714.2L576.39 715.3L578.13 716.4L579.87 717.6L581.61 718.6L583.35 719.7L585.08 720.8L586.82 721.9L588.56 723L590.3 724L592.03 725.1L593.77 726.1L595.51 727.1L597.25 728.2L598.99 729.2L600.72 730.2L602.46 731.2L604.2 732.2L605.94 733.2L607.67 734.2L609.41 735.1L611.15 736.1L612.89 737.1L614.63 738L616.36 739L618.1 739.9L619.84 740.9L621.58 741.8L623.31 742.7L625.05 743.6L626.79 744.5L628.53 745.4L630.27 746.3L632 747.2L633.74 748.1L635.48 748.9L637.22 749.8L638.95 750.7L640.69 751.5L642.43 752.4L644.17 753.2L645.91 754L647.64 754.9L649.38 755.7L651.12 756.5L652.86 757.3L654.59 758.1L656.33 758.9L658.07 759.7L659.81 760.5L661.55 761.3L663.28 762L665.02 762.8L666.76 763.6L668.5 764.3L670.23 765.1L671.97 765.8L673.71 766.6L675.45 767.3L677.19 768L678.92 768.8L680.66 769.5L682.4 770.2L684.14 770.9L685.87 771.6L687.61 772.3L689.35 773L691.09 773.7L692.83 774.4L694.56 775.1L696.3 775.8L698.04 776.5L699.78 777.1L701.51 777.8L703.25 778.5L704.99 779.1L706.73 779.8L708.47 780.5L710.2 781.1L711.94 781.8L713.68 782.4L715.42 783L717.15 783.7L718.89 784.3L720.63 784.9L722.37 785.6L724.11 786.2L725.84 786.8L727.58 787.4L729.32 788L731.06 788.6L732.79 789.2L734.53 789.8L736.27 790.4L738.01 791L739.74 791.6L741.48 792.1L743.22 792.7L744.96 793.3L746.7 793.9L748.43 794.4L750.17 795L751.91 795.5L753.65 796.1L755.38 796.6L757.12 797.2L758.86 797.7L760.6 798.3L762.34 798.8L764.07 799.3L765.81 799.9L767.55 800.4L769.29 800.9L771.02 801.4L772.76 801.9L774.5 802.4L776.24 803L777.98 803.5L779.71 804L781.45 804.5L783.19 805L784.93 805.4L786.66 805.9L788.4 806.4L790.14 806.9L791.88 807.4L793.62 807.8L795.35 808.3L797.09 808.8L798.83 809.2L800.57 809.7L802.3 810.2L804.04 810.6L805.78 811.1L807.52 811.5L809.26 812L810.99 812.4L812.73 812.9L814.47 813.3L816.21 813.7L817.94 814.2L819.68 814.6L821.42 815L823.16 815.4L824.9 815.9L826.63 816.3L828.37 816.7L830.11 817.1L831.85 817.5L833.58 817.9L835.32 818.3L837.06 818.7L838.8 819.1L840.54 819.5L842.27 819.9L844.01 820.3L845.75 820.7L847.49 821.1L849.22 821.5L850.96 821.9L852.7 822.3L854.44 822.7L856.18 823L857.91 823.4L859.65 823.8L861.39 824.1L863.13 824.5L864.86 824.9L866.6 825.2L868.34 825.6L870.08 826L871.82 826.3L873.55 826.7L875.29 827L877.03 827.4L878.77 827.7L880.5 828.1L882.24 828.4L883.98 828.7L885.72 829.1L887.46 829.4L889.19 829.8L890.93 830.1L892.67 830.4L894.41 830.7L896.14 831.1L897.88 831.4L899.62 831.7L901.36 832L903.1 832.3L904.83 832.6L906.57 833L908.31 833.3L910.05 833.6L911.78 833.9L913.52 834.2L915.26 834.5L917 834.8L918.74 835.1L920.47 835.4L922.21 835.6L923.95 835.9L925.69 836.2L927.42 836.5L929.16 836.8L930.9 837.1L932.64 837.3L934.38 837.6"/>
<path stroke="#0000ff" d="M150.92 145.7L151.73 142.7L152.57 139.6L153.44 136.5L154.35 133.5L155.32 130.4L156.36 127.4L157.58 124.3L158.75 121.2M142.45 187.1L142.96 184.1L143.49 181L144.02 177.9L144.57 174.9L145.14 171.8L145.73 168.8L146.34 165.7L146.97 162.6M136.14 228.5L136.58 225.5L137.02 222.4L137.46 219.3L137.91 216.3L138.37 213.2L138.83 210.2L139.29 207.1L139.76 204M130.71 269.9L131.09 266.9L131.47 263.8L131.85 260.7L132.24 257.7L132.63 254.6L133.02 251.6L133.42 248.5L133.83 245.4M126.04 311.3L126.36 308.3L126.68 305.2L127.01 302.1L127.35 299.1L127.68 296L128.03 293L128.37 289.9L128.72 286.8M122 352.7L122.28 349.7L122.56 346.6L122.85 343.5L123.14 340.5L123.43 337.4L123.72 334.4L124.02 331.3L124.32 328.2M118.5 394.1L118.75 391.1L118.99 388L119.24 384.9L119.49 381.9L119.74 378.8L120 375.8L120.26 372.7L120.52 369.6M115.42 435.5L115.64 432.5L115.85 429.4L116.07 426.3L116.29 423.3L116.52 420.2L116.74 417.2L116.97 414.1L117.2 411M112.64 476.9L112.84 473.9L113.04 470.8L113.24 467.7L113.44 464.7L113.64 461.6L113.84 458.6L114.05 455.5L114.26 452.4M110.06 518.3L110.25 515.3L110.43 512.2L110.62 509.1L110.81 506.1L111 503L111.19 500L111.38 496.9L111.57 493.8M107.56 559.7L107.74 556.7L107.93 553.6L108.11 550.5L108.3 547.5L108.48 544.4L108.67 541.4L108.85 538.3L109.04 535.2M105.03 601.1L105.22 598.1L105.41 595L105.6 591.9L105.79 588.9L105.97 585.8L106.16 582.8L106.35 579.7L106.54 576.6M102.35 642.5L102.56 639.5L102.76 636.4L102.96 633.3L103.16 630.3L103.36 627.2L103.56 624.2L103.76 621.1L103.96 618M99.42 683.9L99.65 680.9L99.87 677.8L100.1 674.7L100.32 671.7L100.54 668.6L100.76 665.6L100.98 662.5L101.19 659.4M98.06 701.6L98.12 700.8M166.12 107.8L167.96 105.5L169.8 103.7L171.64 102.3L173.48 101.3L175.32 100.6L177.16 100.3L179 100.2M185.3 102.3L187.14 103.5L188.98 104.9L190.82 106.6L192.66 108.4L194.5 110.5L196.34 112.7L198.18 115.1M204.47 124.4L206.31 127.5L208.15 130.6L209.99 133.9L211.83 137.2L213.67 140.7L215.51 144.2L217.35 147.8M223.65 160.7L225.49 164.6L227.33 168.6L229.17 172.6L231.01 176.6L232.85 180.7L234.69 184.8L236.53 189M242.82 203.4L244.66 207.6L246.5 211.9L248.34 216.2L250.18 220.6L252.02 224.9L253.86 229.3L255.7 233.7M262 248.9L263.84 253.3L265.68 257.7L267.52 262.1L269.36 266.5L271.2 270.9L273.04 275.2L274.88 279.6M281.17 294.3L283.01 298.5L284.85 302.8L286.69 307L288.53 311.2L290.37 315.3L292.21 319.5L294.05 323.7M300.35 337.7L302.19 341.8L304.03 345.9L305.87 349.9L307.71 353.9L309.55 358L311.39 361.9L313.23 365.9M319.52 379.3L321.36 383.2L323.2 387.1L325.04 390.9L326.88 394.7L328.72 398.5L330.56 402.2L332.4 405.9M338.7 418.4L340.54 421.9L342.38 425.5L344.22 429L346.06 432.4L347.9 435.9L349.74 439.3L351.58 442.6M357.88 454L359.71 457.2L361.55 460.4L363.39 463.6L365.23 466.8L367.07 469.9L368.91 473L370.75 476.1M377.05 486.5L378.89 489.4L380.73 492.4L382.57 495.3L384.41 498.2L386.25 501L388.09 503.9L389.92 506.7M396.23 516.1L398.06 518.8L399.9 521.5L401.74 524.1L403.58 526.8L405.42 529.4L407.26 532L409.1 534.5M415.4 543.1L417.24 545.5L419.08 548L420.92 550.4L422.76 552.8L424.6 555.1L426.44 557.5L428.27 559.8M434.57 567.6L436.41 569.8L438.25 572.1L440.09 574.3L441.93 576.4L443.77 578.6L445.61 580.7L447.45 582.8M453.75 589.9L455.59 592L457.43 594L459.27 596L461.11 598L462.95 599.9L464.79 601.9L466.62 603.8M472.93 610.3L474.76 612.2L476.6 614L478.44 615.8L480.28 617.7L482.12 619.5L483.96 621.2L485.8 623M492.1 628.9L493.94 630.6L495.78 632.3L497.62 634L499.46 635.7L501.3 637.3L503.14 638.9L504.97 640.6M511.27 646L513.11 647.6L514.95 649.1L516.79 650.6L518.63 652.2L520.47 653.7L522.31 655.2L524.15 656.7M530.45 661.7L532.29 663.1L534.13 664.5L535.97 665.9L537.81 667.3L539.65 668.7L541.49 670.1L543.33 671.5M549.62 676.1L551.46 677.4L553.3 678.7L555.14 680L556.98 681.3L558.82 682.6L560.66 683.8L562.5 685.1M568.8 689.3L570.64 690.5L572.48 691.8L574.32 692.9L576.16 694.1L578 695.3L579.84 696.5L581.67 697.6M587.97 701.6L589.81 702.7L591.65 703.8L593.49 704.9L595.33 706L597.17 707.1L599.01 708.2L600.85 709.2M607.15 712.8L608.99 713.9L610.83 714.9L612.67 715.9L614.51 716.9L616.35 717.9L618.19 718.9L620.02 719.9M626.32 723.2L628.16 724.2L630 725.1L631.84 726.1L633.68 727L635.52 727.9L637.36 728.8L639.2 729.7M645.5 732.8L647.34 733.7L649.18 734.5L651.02 735.4L652.86 736.3L654.7 737.1L656.54 738L658.37 738.8M664.67 741.6L666.51 742.4L668.35 743.2L670.19 744L672.03 744.8L673.87 745.6L675.71 746.4L677.55 747.2M683.85 749.8L685.69 750.5L687.53 751.3L689.37 752L691.21 752.7L693.05 753.5L694.89 754.2L696.72 754.9M703.02 757.4L704.86 758.1L706.7 758.7L708.54 759.4L710.38 760.1L712.22 760.8L714.06 761.5L715.9 762.2M722.2 764.4L724.04 765.1L725.88 765.8L727.72 766.4L729.56 767L731.4 767.7L733.24 768.3L735.07 768.9M741.38 771.1L743.21 771.7L745.05 772.3L746.89 772.9L748.73 773.5L750.57 774.1L752.41 774.7L754.25 775.2M760.55 777.2L762.39 777.8L764.23 778.3L766.07 778.9L767.91 779.5L769.75 780L771.59 780.5L773.42 781.1M779.72 782.9L781.56 783.4L783.4 784L785.24 784.5L787.08 785L788.92 785.5L790.76 786L792.6 786.5M798.9 788.2L800.74 788.7L802.58 789.2L804.42 789.7L806.26 790.2L808.1 790.6L809.94 791.1L811.77 791.6M818.07 793.1L819.91 793.6L821.75 794L823.59 794.5L825.43 794.9L827.27 795.4L829.11 795.8L830.95 796.3M837.25 797.7L839.09 798.2L840.93 798.6L842.77 799L844.61 799.4L846.45 799.8L848.29 800.3L850.12 800.7M856.42 802L858.26 802.4L860.1 802.8L861.94 803.2L863.78 803.6L865.62 804L867.46 804.4L869.3 804.8M875.6 806L877.44 806.4L879.28 806.8L881.12 807.1L882.96 807.5L884.8 807.9L886.64 808.2L888.47 808.6M894.77 809.8L896.61 810.1L898.45 810.4L900.29 810.8L902.13 811.1L903.97 811.4L905.81 811.8L907.65 812.1M913.95 813.2L915.79 813.5L917.63 813.8L919.47 814.1L921.31 814.4L923.15 814.8L924.99 815.1L926.82 815.4"/>
<path stroke="#007f00" d="M98.06 659.5L98.14 658.5L98.32 656.2L98.49 654L98.66 651.8L98.83 649.6L99 647.3L99.17 645.1L99.34 642.9L99.51 640.7L99.67 638.4L99.83 636.2L100 634L100.16 631.8L100.32 629.6L100.48 627.3L100.64 625.1L100.8 622.9L100.96 620.7L101.11 618.4L101.27 616.2L101.42 614L101.58 611.8L101.73 609.5L101.88 607.3L102.04 605.1L102.19 602.9L102.34 600.6L102.49 598.4L102.63 596.2L102.78 594L102.93 591.7L103.08 589.5L103.22 587.3L103.37 585.1L103.51 582.9L103.66 580.6L103.8 578.4L103.94 576.2L104.09 574L104.23 571.7L104.37 569.5L104.51 567.3L104.65 565.1L104.79 562.8L104.93 560.6L105.07 558.4L105.21 556.2L105.34 553.9L105.48 551.7L105.62 549.5L105.76 547.3L105.89 545L106.03 542.8L106.17 540.6L106.3 538.4L106.44 536.1L106.57 533.9L106.71 531.7L106.84 529.5L106.98 527.3L107.11 525L107.25 522.8L107.38 520.6L107.52 518.4L107.65 516.1L107.78 513.9L107.92 511.7L108.05 509.5L108.19 507.2L108.32 505L108.45 502.8L108.59 500.6L108.72 498.3L108.86 496.1L108.99 493.9L109.13 491.7L109.26 489.4L109.39 487.2L109.53 485L109.66 482.8L109.8 480.5L109.93 478.3L110.07 476.1L110.2 473.9L110.34 471.7L110.48 469.4L110.61 467.2L110.75 465L110.89 462.8L111.02 460.5L111.16 458.3L111.3 456.1L111.44 453.9L111.58 451.6L111.72 449.4L111.86 447.2L112 445L112.14 442.7L112.28 440.5L112.42 438.3L112.56 436.1L112.71 433.8L112.85 431.6L112.99 429.4L113.14 427.2L113.28 425L113.43 422.7L113.58 420.5L113.72 418.3L113.87 416.1L114.02 413.8L114.17 411.6L114.32 409.4L114.47 407.2L114.62 404.9L114.78 402.7L114.93 400.5L115.08 398.3L115.24 396L115.39 393.8L115.55 391.6L115.71 389.4L115.87 387.1L116.03 384.9L116.19 382.7L116.35 380.5L116.51 378.2L116.67 376L116.84 373.8L117 371.6L117.17 369.4L117.34 367.1L117.5 364.9L117.67 362.7L117.85 360.5L118.02 358.2L118.19 356L118.36 353.8L118.54 351.6L118.72 349.3L118.89 347.1L119.07 344.9L119.25 342.7L119.44 340.4L119.62 338.2L119.8 336L119.99 333.8L120.18 331.5L120.36 329.3L120.55 327.1L120.75 324.9L120.94 322.7L121.13 320.4L121.33 318.2L121.52 316L121.72 313.8L121.92 311.5L122.12 309.3L122.33 307.1L122.53 304.9L122.74 302.6L122.95 300.4L123.16 298.2L123.37 296L123.58 293.7L123.79 291.5L124.01 289.3L124.23 287.1L124.45 284.8L124.67 282.6L124.89 280.4L125.12 278.2L125.34 275.9L125.57 273.7L125.8 271.5L126.03 269.3L126.27 267.1L126.5 264.8L126.74 262.6L126.98 260.4L127.22 258.2L127.46 255.9L127.71 253.7L127.96 251.5L128.21 249.3L128.46 247L128.71 244.8L128.97 242.6L129.22 240.4L129.48 238.1L129.74 235.9L130.01 233.7L130.27 231.5L130.54 229.2L130.81 227L131.09 224.8L131.36 222.6L131.64 220.3L131.92 218.1L132.2 215.9L132.48 213.7L132.77 211.5L133.05 209.2L133.35 207L133.64 204.8L133.93 202.6L134.23 200.3L134.53 198.1L134.83 195.9L135.14 193.7L135.45 191.4L135.76 189.2L136.07 187L136.38 184.8L136.7 182.5L137.02 180.3L137.34 178.1L137.67 175.9L137.99 173.6L138.33 171.4L138.66 169.2L138.99 167L139.33 164.8L139.67 162.5L140.02 160.3L140.36 158.1L140.71 155.9L141.06 153.6L141.42 151.4L141.77 149.2L142.14 147L142.5 144.7L142.87 142.5L143.25 140.3L143.63 138.1L144.02 135.8L144.42 133.6L144.83 131.4L145.25 129.2L145.67 126.9L146.11 124.7L146.56 122.5L147.02 120.3L147.5 118L147.98 115.8L148.48 113.6L149 111.4L149.53 109.2L150.08 106.9L150.64 104.7L151.22 102.5L151.65 100.9L152.06 99.4L152.47 97.9L152.88 96.4L153.29 95L153.7 93.6L154.11 92.2L154.52 90.8L154.93 89.5L155.35 88.3L155.76 87L156.17 85.8L156.58 84.7L156.99 83.7L157.4 82.7L157.81 81.6L158.22 80.5L158.63 79.4L159.04 78.5L159.45 77.5L159.86 76.6L160.27 75.7L160.68 74.9L161.09 74L161.5 73.2L161.91 72.4L162.32 71.7L162.73 70.9L163.15 70.2L163.56 69.5L163.97 68.8L164.38 68.2L164.79 67.6L165.2 67L165.61 66.4L166.02 65.8L166.43 65.3L166.84 64.8L167.25 64.3L167.66 63.8L168.07 63.3L168.48 62.9L168.89 62.5L169.3 62.1L169.71 61.7L170.12 61.4L170.53 61L170.95 60.7L171.36 60.4L171.77 60.2L172.18 59.9L172.59 59.7L173 59.4L173.41 59.2L173.82 59L174.23 58.9L174.64 58.7L175.05 58.6L175.46 58.5L175.87 58.4L176.28 58.3L176.69 58.2L177.1 58.2L177.51 58.1L177.92 58.1L178.33 58.1L178.75 58.1L179.16 58.1L179.57 58.2L179.98 58.2L180.39 58.3L180.8 58.4L181.21 58.5L181.62 58.6L182.03 58.7L182.44 58.9L182.85 59L183.26 59.2L183.67 59.4L184.08 59.6L184.49 59.8L184.9 60L185.31 60.2L185.72 60.5L186.13 60.7L186.54 61L186.96 61.3L187.37 61.6L187.78 61.9L188.19 62.2L188.6 62.5L189.01 62.9L189.42 63.2L189.83 63.6L190.24 63.9L190.65 64.3L191.06 64.7L191.47 65.1L191.88 65.5L192.29 65.9L192.7 66.4L193.11 66.8L193.52 67.3L193.93 67.7L194.34 68.2L194.76 68.7L195.17 69.2L195.58 69.7L195.99 70.2L196.4 70.7L196.81 71.2L197.22 71.7L197.63 72.3L198.04 72.8L198.45 73.4L198.86 73.9L199.27 74.5L199.68 75.1L200.09 75.7L200.5 76.3L200.91 76.9L201.32 77.5L201.73 78.1L202.14 78.7L202.56 79.3L202.97 80L203.38 80.6L203.79 81.2L204.2 81.9L204.61 82.6L205.02 83.2L205.43 83.9L205.84 84.6L206.25 85.3L207.99 88.2L209.73 91.3L211.46 94.4L213.2 97.7L214.94 101L216.68 104.4L218.41 107.9L220.15 111.4L221.89 115L223.63 118.6L225.37 122.3L227.1 126L228.84 129.8L230.58 133.6L232.32 137.4L234.05 141.3L235.79 145.2L237.53 149.2L239.27 153.1L241.01 157.1L242.74 161.1L244.48 165.1L246.22 169.2L247.96 173.2L249.69 177.3L251.43 181.5L253.17 185.6L254.91 189.7L256.65 193.9L258.38 198.1L260.12 202.3L261.86 206.4L263.6 210.6L265.33 214.8L267.07 218.9L268.81 223.1L270.55 227.2L272.29 231.4L274.02 235.5L275.76 239.6L277.5 243.7L279.24 247.7L280.97 251.7L282.71 255.7L284.45 259.7L286.19 263.7L287.93 267.7L289.66 271.6L291.4 275.6L293.14 279.5L294.88 283.4L296.61 287.3L298.35 291.2L300.09 295.1L301.83 298.9L303.57 302.8L305.3 306.6L307.04 310.4L308.78 314.2L310.52 318L312.25 321.7L313.99 325.5L315.73 329.2L317.47 332.9L319.2 336.6L320.94 340.2L322.68 343.9L324.42 347.5L326.16 351.1L327.89 354.7L329.63 358.2L331.37 361.7L333.11 365.2L334.84 368.7L336.58 372.1L338.32 375.5L340.06 378.9L341.8 382.3L343.53 385.6L345.27 388.9L347.01 392.1L348.75 395.3L350.48 398.5L352.22 401.7L353.96 404.9L355.7 408L357.44 411.1L359.17 414.2L360.91 417.2L362.65 420.2L364.39 423.2L366.12 426.2L367.86 429.1L369.6 432.1L371.34 435L373.08 437.9L374.81 440.7L376.55 443.6L378.29 446.4L380.03 449.2L381.76 451.9L383.5 454.7L385.24 457.4L386.98 460.1L388.72 462.7L390.45 465.4L392.19 468L393.93 470.6L395.67 473.2L397.4 475.8L399.14 478.3L400.88 480.8L402.62 483.3L404.36 485.8L406.09 488.2L407.83 490.7L409.57 493.1L411.31 495.5L413.04 497.8L414.78 500.2L416.52 502.5L418.26 504.8L420 507.1L421.73 509.4L423.47 511.6L425.21 513.8L426.95 516L428.68 518.2L430.42 520.4L432.16 522.6L433.9 524.7L435.64 526.8L437.37 528.9L439.11 531L440.85 533.1L442.59 535.1L444.32 537.1L446.06 539.2L447.8 541.1L449.54 543.1L451.28 545.1L453.01 547L454.75 549L456.49 550.9L458.23 552.8L459.96 554.7L461.7 556.5L463.44 558.4L465.18 560.2L466.92 562L468.65 563.9L470.39 565.6L472.13 567.4L473.87 569.2L475.6 570.9L477.34 572.7L479.08 574.4L480.82 576.1L482.56 577.8L484.29 579.5L486.03 581.1L487.77 582.8L489.51 584.4L491.24 586.1L492.98 587.7L494.72 589.3L496.46 590.9L498.2 592.4L499.93 594L501.67 595.6L503.41 597.1L505.15 598.6L506.88 600.1L508.62 601.6L510.36 603.1L512.1 604.6L513.84 606.1L515.57 607.5L517.31 609L519.05 610.4L520.79 611.8L522.52 613.3L524.26 614.7L526 616.1L527.74 617.4L529.47 618.8L531.21 620.2L532.95 621.5L534.69 622.9L536.43 624.2L538.16 625.5L539.9 626.8L541.64 628.1L543.38 629.4L545.11 630.7L546.85 632L548.59 633.2L550.33 634.5L552.07 635.7L553.8 637L555.54 638.2L557.28 639.4L559.02 640.6L560.75 641.8L562.49 643L564.23 644.2L565.97 645.3L567.71 646.5L569.44 647.7L571.18 648.8L572.92 649.9L574.66 651.1L576.39 652.2L578.13 653.3L579.87 654.4L581.61 655.5L583.35 656.6L585.08 657.7L586.82 658.8L588.56 659.8L590.3 660.9L592.03 661.9L593.77 663L595.51 664L597.25 665L598.99 666.1L600.72 667.1L602.46 668.1L604.2 669.1L605.94 670.1L607.67 671L609.41 672L611.15 673L612.89 673.9L614.63 674.9L616.36 675.8L618.1 676.8L619.84 677.7L621.58 678.6L623.31 679.6L625.05 680.5L626.79 681.4L628.53 682.3L630.27 683.2L632 684.1L633.74 684.9L635.48 685.8L637.22 686.7L638.95 687.5L640.69 688.4L642.43 689.2L644.17 690.1L645.91 690.9L647.64 691.7L649.38 692.6L651.12 693.4L652.86 694.2L654.59 695L656.33 695.8L658.07 696.6L659.81 697.4L661.55 698.1L663.28 698.9L665.02 699.7L666.76 700.4L668.5 701.2L670.23 702L671.97 702.7L673.71 703.4L675.45 704.2L677.19 704.9L678.92 705.6L680.66 706.4L682.4 707.1L684.14 707.8L685.87 708.5L687.61 709.2L689.35 709.9L691.09 710.6L692.83 711.3L694.56 712L696.3 712.7L698.04 713.3L699.78 714L701.51 714.7L703.25 715.3L704.99 716L706.73 716.7L708.47 717.3L710.2 718L711.94 718.6L713.68 719.3L715.42 719.9L717.15 720.5L718.89 721.2L720.63 721.8L722.37 722.4L724.11 723L725.84 723.7L727.58 724.3L729.32 724.9L731.06 725.5L732.79 726.1L734.53 726.7L736.27 727.3L738.01 727.9L739.74 728.4L741.48 729L743.22 729.6L744.96 730.2L746.7 730.7L748.43 731.3L750.17 731.9L751.91 732.4L753.65 733L755.38 733.5L757.12 734.1L758.86 734.6L760.6 735.1L762.34 735.7L764.07 736.2L765.81 736.7L767.55 737.3L769.29 737.8L771.02 738.3L772.76 738.8L774.5 739.3L776.24 739.8L777.98 740.3L779.71 740.8L781.45 741.3L783.19 741.8L784.93 742.3L786.66 742.8L788.4 743.3L790.14 743.8L791.88 744.2L793.62 744.7L795.35 745.2L797.09 745.6L798.83 746.1L800.57 746.6L802.3 747L804.04 747.5L805.78 747.9L807.52 748.4L809.26 748.8L810.99 749.3L812.73 749.7L814.47 750.2L816.21 750.6L817.94 751L819.68 751.5L821.42 751.9L823.16 752.3L824.9 752.7L826.63 753.1L828.37 753.6L830.11 754L831.85 754.4L833.58 754.8L835.32 755.2L837.06 755.6L838.8 756L840.54 756.4L842.27 756.8L844.01 757.2L845.75 757.6L847.49 758L849.22 758.4L850.96 758.8L852.7 759.1L854.44 759.5L856.18 759.9L857.91 760.3L859.65 760.6L861.39 761L863.13 761.4L864.86 761.7L866.6 762.1L868.34 762.5L870.08 762.8L871.82 763.2L873.55 763.5L875.29 763.9L877.03 764.2L878.77 764.6L880.5 764.9L882.24 765.3L883.98 765.6L885.72 766L887.46 766.3L889.19 766.6L890.93 766.9L892.67 767.3L894.41 767.6L896.14 767.9L897.88 768.2L899.62 768.6L901.36 768.9L903.1 769.2L904.83 769.5L906.57 769.8L908.31 770.1L910.05 770.4L911.78 770.7L913.52 771L915.26 771.3L917 771.6L918.74 771.9L920.47 772.2L922.21 772.5L923.95 772.8L925.69 773.1L927.42 773.4L929.16 773.7L930.9 773.9L932.64 774.2L934.38 774.5"/>
<path stroke="#007f00" d="M150.92 82.6L151.73 79.5L152.57 76.5L153.44 73.4L154.35 70.3L155.32 67.3L156.36 64.2L157.58 61.2L158.75 58.1M142.45 124L142.96 120.9L143.49 117.9L144.02 114.8L144.57 111.7L145.14 108.7L145.73 105.6L146.34 102.6L146.97 99.5M136.14 165.4L136.58 162.3L137.02 159.3L137.46 156.2L137.91 153.2L138.37 150.1L138.83 147L139.29 144L139.76 140.9M130.71 206.8L131.09 203.7L131.47 200.7L131.85 197.6L132.24 194.5L132.63 191.5L133.02 188.4L133.42 185.4L133.83 182.3M126.04 248.2L126.36 245.1L126.68 242.1L127.01 239L127.35 235.9L127.68 232.9L128.03 229.8L128.37 226.8L128.72 223.7M122 289.6L122.28 286.5L122.56 283.5L122.85 280.4L123.14 277.4L123.43 274.3L123.72 271.2L124.02 268.2L124.32 265.1M118.5 331L118.75 327.9L118.99 324.9L119.24 321.8L119.49 318.8L119.74 315.7L120 312.6L120.26 309.6L120.52 306.5M115.42 372.4L115.64 369.3L115.85 366.3L116.07 363.2L116.29 360.1L116.52 357.1L116.74 354L116.97 351L117.2 347.9M112.64 413.8L112.84 410.7L113.04 407.7L113.24 404.6L113.44 401.5L113.64 398.5L113.84 395.4L114.05 392.4L114.26 389.3M110.06 455.2L110.25 452.1L110.43 449.1L110.62 446L110.81 442.9L111 439.9L111.19 436.8L111.38 433.8L111.57 430.7M107.56 496.6L107.74 493.5L107.93 490.5L108.11 487.4L108.3 484.3L108.48 481.3L108.67 478.2L108.85 475.2L109.04 472.1M105.03 538L105.22 534.9L105.41 531.9L105.6 528.8L105.79 525.8L105.97 522.7L106.16 519.6L106.35 516.6L106.54 513.5M102.35 579.4L102.56 576.3L102.76 573.3L102.96 570.2L103.16 567.1L103.36 564.1L103.56 561L103.76 558L103.96 554.9M99.42 620.8L99.65 617.7L99.87 614.7L100.1 611.6L100.32 608.5L100.54 605.5L100.76 602.4L100.98 599.4L101.19 596.3M98.06 638.4L98.12 637.7M166.12 44.6L167.96 42.4L169.8 40.6L171.64 39.2L173.48 38.2L175.32 37.5L177.16 37.1L179 37.1M185.3 39.2L187.14 40.4L188.98 41.8L190.82 43.4L192.66 45.3L194.5 47.3L196.34 49.6L198.18 51.9M204.47 61.3L206.31 64.3L208.15 67.5L209.99 70.7L211.83 74.1L213.67 77.5L215.51 81.1L217.35 84.7M223.65 97.6L225.49 101.5L227.33 105.4L229.17 109.4L231.01 113.5L232.85 117.6L234.69 121.7L236.53 125.8M242.82 140.2L244.66 144.5L246.5 148.8L248.34 153.1L250.18 157.4L252.02 161.8L253.86 166.2L255.7 170.6M262 185.7L263.84 190.1L265.68 194.6L267.52 199L269.36 203.4L271.2 207.7L273.04 212.1L274.88 216.5M281.17 231.2L283.01 235.4L284.85 239.6L286.69 243.8L288.53 248L290.37 252.2L292.21 256.4L294.05 260.5M300.35 274.6L302.19 278.7L304.03 282.7L305.87 286.8L307.71 290.8L309.55 294.8L311.39 298.8L313.23 302.8M319.52 316.2L321.36 320.1L323.2 323.9L325.04 327.8L326.88 331.6L328.72 335.3L330.56 339.1L332.4 342.8M338.7 355.2L340.54 358.8L342.38 362.3L344.22 365.8L346.06 369.3L347.9 372.7L349.74 376.1L351.58 379.5M357.88 390.8L359.71 394.1L361.55 397.3L363.39 400.5L365.23 403.6L367.07 406.8L368.91 409.9L370.75 413M377.05 423.3L378.89 426.3L380.73 429.2L382.57 432.1L384.41 435L386.25 437.9L388.09 440.7L389.92 443.5M396.23 453L398.06 455.7L399.9 458.4L401.74 461L403.58 463.6L405.42 466.2L407.26 468.8L409.1 471.4M415.4 480L417.24 482.4L419.08 484.8L420.92 487.2L422.76 489.6L424.6 492L426.44 494.4L428.27 496.7M434.57 504.5L436.41 506.7L438.25 508.9L440.09 511.1L441.93 513.3L443.77 515.4L445.61 517.6L447.45 519.7M453.75 526.8L455.59 528.8L457.43 530.9L459.27 532.9L461.11 534.9L462.95 536.8L464.79 538.8L466.62 540.7M472.93 547.2L474.76 549L476.6 550.9L478.44 552.7L480.28 554.5L482.12 556.3L483.96 558.1L485.8 559.9M492.1 565.8L493.94 567.5L495.78 569.2L497.62 570.9L499.46 572.5L501.3 574.2L503.14 575.8L504.97 577.4M511.27 582.9L513.11 584.4L514.95 586L516.79 587.5L518.63 589L520.47 590.5L522.31 592L524.15 593.5M530.45 598.5L532.29 600L534.13 601.4L535.97 602.8L537.81 604.2L539.65 605.6L541.49 607L543.33 608.3M549.62 612.9L551.46 614.2L553.3 615.6L555.14 616.9L556.98 618.1L558.82 619.4L560.66 620.7L562.5 622M568.8 626.2L570.64 627.4L572.48 628.6L574.32 629.8L576.16 631L578 632.2L579.84 633.4L581.67 634.5M587.97 638.4L589.81 639.5L591.65 640.7L593.49 641.8L595.33 642.9L597.17 643.9L599.01 645L600.85 646.1M607.15 649.7L608.99 650.7L610.83 651.8L612.67 652.8L614.51 653.8L616.35 654.8L618.19 655.8L620.02 656.8M626.32 660.1L628.16 661.1L630 662L631.84 662.9L633.68 663.9L635.52 664.8L637.36 665.7L639.2 666.6M645.5 669.7L647.34 670.5L649.18 671.4L651.02 672.3L652.86 673.1L654.7 674L656.54 674.8L658.37 675.7M664.67 678.5L666.51 679.3L668.35 680.1L670.19 680.9L672.03 681.7L673.87 682.5L675.71 683.2L677.55 684M683.85 686.6L685.69 687.4L687.53 688.1L689.37 688.9L691.21 689.6L693.05 690.3L694.89 691.1L696.72 691.8M703.02 694.2L704.86 694.9L706.7 695.6L708.54 696.3L710.38 697L712.22 697.7L714.06 698.4L715.9 699M722.2 701.3L724.04 702L725.88 702.6L727.72 703.3L729.56 703.9L731.4 704.6L733.24 705.2L735.07 705.8M741.38 707.9L743.21 708.5L745.05 709.1L746.89 709.7L748.73 710.3L750.57 710.9L752.41 711.5L754.25 712.1M760.55 714.1L762.39 714.6L764.23 715.2L766.07 715.8L767.91 716.3L769.75 716.9L771.59 717.4L773.42 718M779.72 719.8L781.56 720.3L783.4 720.8L785.24 721.4L787.08 721.9L788.92 722.4L790.76 722.9L792.6 723.4M798.9 725.1L800.74 725.6L802.58 726.1L804.42 726.5L806.26 727L808.1 727.5L809.94 728L811.77 728.4M818.07 730L819.91 730.5L821.75 730.9L823.59 731.4L825.43 731.8L827.27 732.3L829.11 732.7L830.95 733.1M837.25 734.6L839.09 735L840.93 735.5L842.77 735.9L844.61 736.3L846.45 736.7L848.29 737.1L850.12 737.5M856.42 738.9L858.26 739.3L860.1 739.7L861.94 740.1L863.78 740.5L865.62 740.9L867.46 741.2L869.3 741.6M875.6 742.9L877.44 743.3L879.28 743.6L881.12 744L882.96 744.4L884.8 744.7L886.64 745.1L888.47 745.4M894.77 746.6L896.61 747L898.45 747.3L900.29 747.6L902.13 748L903.97 748.3L905.81 748.6L907.65 749M913.95 750.1L915.79 750.4L917.63 750.7L919.47 751L921.31 751.3L923.15 751.6L924.99 751.9L926.82 752.2"/>
</g></g>
<g stroke="#000" fill="none">
<path stroke-width="1.75" d="M156.9 11.6V960.3"/>
<path stroke-width="2.05" d="M1495 12.4V960.3"/>
<path stroke-width="1.5" d="M155.9 12.35L1499 13.35"/>
<path stroke-width="1.7" d="M155.9 959.5H1496"/>
</g>
<g stroke="#000" fill="none" stroke-width="3.1">
<path stroke-width="3.9" d="M953.2 123.8h14.8M982 123.8h29.2M1025.5 123.8h25.6M1065.2 123.8h20.5"/>
<path stroke-width="3.9" d="M965.8 166.85h130.3"/>
<path d="M581 623L756 501.8"/>
</g>
<path fill="#000" d="M741.8 497.8L769.3 489L772.8 488.9L774.4 491.1L761.3 510.6L756.6 510.6L753.5 503L741.8 501.6Z"/>
<g opacity="0.999" fill="#000">
<text transform="translate(146.3 971.7) scale(1.25 1)" font-family="'Liberation Sans', sans-serif" font-weight="bold" font-size="36" text-anchor="end" style="font-kerning:none">1</text>
<text transform="translate(146.3 866.48) scale(1.25 1)" font-family="'Liberation Sans', sans-serif" font-weight="bold" font-size="36" text-anchor="end" style="font-kerning:none">2</text>
<text transform="translate(146.3 761.26) scale(1.25 1)" font-family="'Liberation Sans', sans-serif" font-weight="bold" font-size="36" text-anchor="end" style="font-kerning:none">3</text>
<text transform="translate(146.3 656.03) scale(1.25 1)" font-family="'Liberation Sans', sans-serif" font-weight="bold" font-size="36" text-anchor="end" style="font-kerning:none">4</text>
<text transform="translate(146.3 550.81) scale(1.25 1)" font-family="'Liberation Sans', sans-serif" font-weight="bold" font-size="36" text-anchor="end" style="font-kerning:none">5</text>
<text transform="translate(146.3 445.59) scale(1.25 1)" font-family="'Liberation Sans', sans-serif" font-weight="bold" font-size="36" text-anchor="end" style="font-kerning:none">6</text>
<text transform="translate(146.3 340.37) scale(1.25 1)" font-family="'Liberation Sans', sans-serif" font-weight="bold" font-size="36" text-anchor="end" style="font-kerning:none">7</text>
<text transform="translate(146.3 235.14) scale(1.25 1)" font-family="'Liberation Sans', sans-serif" font-weight="bold" font-size="36" text-anchor="end" style="font-kerning:none">8</text>
<text transform="translate(146.3 129.92) scale(1.25 1)" font-family="'Liberation Sans', sans-serif" font-weight="bold" font-size="36" text-anchor="end" style="font-kerning:none">9</text>
<text transform="translate(146.3 24.7) scale(1.25 1)" font-family="'Liberation Sans', sans-serif" font-weight="bold" font-size="36" text-anchor="end" style="font-kerning:none">10</text>
<text transform="translate(155.6 997.2) scale(1.25 1)" font-family="'Liberation Sans', sans-serif" font-weight="bold" font-size="36" text-anchor="middle" style="font-kerning:none">0</text>
<text transform="translate(424.12 997.2) scale(1.25 1)" font-family="'Liberation Sans', sans-serif" font-weight="bold" font-size="36" text-anchor="middle" style="font-kerning:none">0.2</text>
<text transform="translate(691.74 997.2) scale(1.25 1)" font-family="'Liberation Sans', sans-serif" font-weight="bold" font-size="36" text-anchor="middle" style="font-kerning:none">0.4</text>
<text transform="translate(959.36 997.2) scale(1.25 1)" font-family="'Liberation Sans', sans-serif" font-weight="bold" font-size="36" text-anchor="middle" style="font-kerning:none">0.6</text>
<text transform="translate(1226.98 997.2) scale(1.25 1)" font-family="'Liberation Sans', sans-serif" font-weight="bold" font-size="36" text-anchor="middle" style="font-kerning:none">0.8</text>
<text transform="translate(1493.5 997.2) scale(1.25 1)" font-family="'Liberation Sans', sans-serif" font-weight="bold" font-size="36" text-anchor="middle" style="font-kerning:none">1</text>
<text transform="translate(820.3 1037.7) scale(1.3 1)" font-family="'Liberation Serif', sans-serif" font-weight="bold" font-size="40" text-anchor="middle" style="font-kerning:none">&#951;</text>
<g transform="translate(42.4 513.5) scale(1.5 1) rotate(-90)" font-family="'Liberation Sans', sans-serif" font-weight="bold"><text font-size="41" x="0" y="0">N</text><text font-size="31" x="29.4" y="18.7">s</text></g>
<text transform="translate(1122.8 138.4) scale(1.3 1)" font-family="'Liberation Sans', sans-serif" font-weight="bold" font-size="31.5" text-anchor="start" style="font-kerning:none">Yamada Ota</text>
<text transform="translate(1124.94 173.8) scale(1.316 1)" font-family="'Liberation Sans', sans-serif" font-weight="bold" font-size="31.5" text-anchor="start" style="font-kerning:none">Xue</text>
<text transform="translate(824.1 482) scale(1.282 1)" font-family="'Liberation Sans', sans-serif" font-weight="bold" font-size="31.5" text-anchor="start" style="font-kerning:none">Br = 0.5, 0.7, 0.9, 1.1</text>
</g>
</svg>
</body></html>
